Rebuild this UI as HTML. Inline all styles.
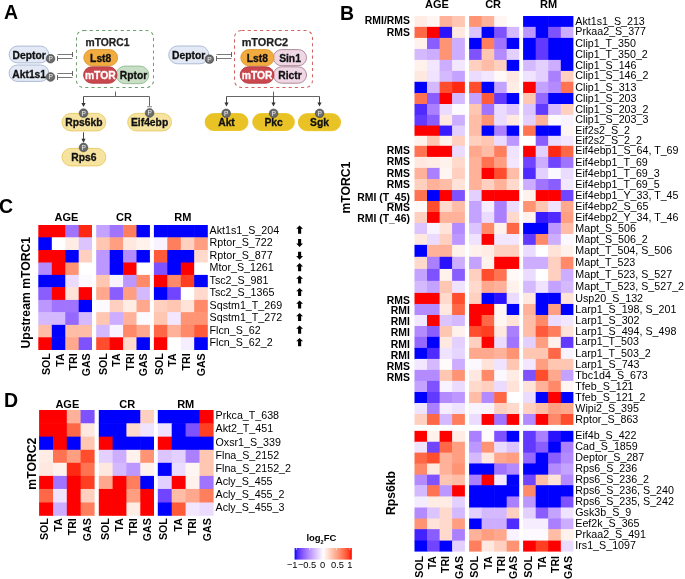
<!DOCTYPE html>
<html><head><meta charset="utf-8"><style>
html,body{margin:0;padding:0;background:#fff;}
body{width:685px;height:579px;overflow:hidden;}
svg{display:block;font-family:"Liberation Sans",sans-serif;will-change:transform;}
</style></head><body>
<svg width="685" height="579" viewBox="0 0 685 579">
<rect x="414.50" y="16.00" width="13.10" height="11.45" fill="#FFECE5"/>
<rect x="427.00" y="16.00" width="13.20" height="11.45" fill="#FFF5F2"/>
<rect x="439.60" y="16.00" width="13.10" height="11.45" fill="#FFB299"/>
<rect x="452.10" y="16.00" width="12.80" height="11.45" fill="#FFC6B2"/>
<rect x="469.10" y="16.00" width="13.10" height="11.45" fill="#FF9475"/>
<rect x="481.60" y="16.00" width="13.20" height="11.45" fill="#FFB299"/>
<rect x="494.20" y="16.00" width="13.10" height="11.45" fill="#FFF5F2"/>
<rect x="506.70" y="16.00" width="12.50" height="11.45" fill="#FFFFFF"/>
<rect x="523.10" y="16.00" width="13.20" height="11.45" fill="#0000FF"/>
<rect x="535.70" y="16.00" width="13.10" height="11.45" fill="#0000FF"/>
<rect x="548.20" y="16.00" width="13.20" height="11.45" fill="#0000FF"/>
<rect x="560.80" y="16.00" width="12.60" height="11.45" fill="#0000FF"/>
<rect x="414.50" y="26.85" width="13.10" height="11.65" fill="#FF6846"/>
<rect x="427.00" y="26.85" width="13.20" height="11.65" fill="#FF0000"/>
<rect x="439.60" y="26.85" width="13.10" height="11.65" fill="#2A12FF"/>
<rect x="452.10" y="26.85" width="12.80" height="11.65" fill="#FFE8E0"/>
<rect x="469.10" y="26.85" width="13.10" height="11.65" fill="#DCC4FF"/>
<rect x="481.60" y="26.85" width="13.20" height="11.65" fill="#0000FF"/>
<rect x="494.20" y="26.85" width="13.10" height="11.65" fill="#7E52FF"/>
<rect x="506.70" y="26.85" width="12.50" height="11.65" fill="#D4B9FF"/>
<rect x="523.10" y="26.85" width="13.20" height="11.65" fill="#BC97FF"/>
<rect x="535.70" y="26.85" width="13.10" height="11.65" fill="#0000FF"/>
<rect x="548.20" y="26.85" width="13.20" height="11.65" fill="#7E52FF"/>
<rect x="560.80" y="26.85" width="12.60" height="11.65" fill="#CCADFF"/>
<rect x="414.50" y="37.90" width="13.10" height="11.66" fill="#FFF2ED"/>
<rect x="427.00" y="37.90" width="13.20" height="11.66" fill="#8A5DFF"/>
<rect x="439.60" y="37.90" width="13.10" height="11.66" fill="#FF9475"/>
<rect x="452.10" y="37.90" width="12.80" height="11.66" fill="#CCADFF"/>
<rect x="469.10" y="37.90" width="13.10" height="11.66" fill="#0000FF"/>
<rect x="481.60" y="37.90" width="13.20" height="11.66" fill="#FF7E5E"/>
<rect x="494.20" y="37.90" width="13.10" height="11.66" fill="#A074FF"/>
<rect x="506.70" y="37.90" width="12.50" height="11.66" fill="#0000FF"/>
<rect x="523.10" y="37.90" width="13.20" height="11.66" fill="#0000FF"/>
<rect x="535.70" y="37.90" width="13.10" height="11.66" fill="#6239FF"/>
<rect x="548.20" y="37.90" width="13.20" height="11.66" fill="#0000FF"/>
<rect x="560.80" y="37.90" width="12.60" height="11.66" fill="#0000FF"/>
<rect x="414.50" y="48.96" width="13.10" height="11.54" fill="#D4B9FF"/>
<rect x="427.00" y="48.96" width="13.20" height="11.54" fill="#CCADFF"/>
<rect x="439.60" y="48.96" width="13.10" height="11.54" fill="#FF9475"/>
<rect x="452.10" y="48.96" width="12.80" height="11.54" fill="#CCADFF"/>
<rect x="469.10" y="48.96" width="13.10" height="11.54" fill="#7E52FF"/>
<rect x="481.60" y="48.96" width="13.20" height="11.54" fill="#FFC6B2"/>
<rect x="494.20" y="48.96" width="13.10" height="11.54" fill="#B38BFF"/>
<rect x="506.70" y="48.96" width="12.50" height="11.54" fill="#E3D0FF"/>
<rect x="523.10" y="48.96" width="13.20" height="11.54" fill="#0000FF"/>
<rect x="535.70" y="48.96" width="13.10" height="11.54" fill="#6239FF"/>
<rect x="548.20" y="48.96" width="13.20" height="11.54" fill="#0000FF"/>
<rect x="560.80" y="48.96" width="12.60" height="11.54" fill="#0000FF"/>
<rect x="414.50" y="59.90" width="13.10" height="11.60" fill="#FFF2ED"/>
<rect x="427.00" y="59.90" width="13.20" height="11.60" fill="#F2E7FF"/>
<rect x="439.60" y="59.90" width="13.10" height="11.60" fill="#CCADFF"/>
<rect x="452.10" y="59.90" width="12.80" height="11.60" fill="#F2E7FF"/>
<rect x="469.10" y="59.90" width="13.10" height="11.60" fill="#FFCFBF"/>
<rect x="481.60" y="59.90" width="13.20" height="11.60" fill="#FFBCA6"/>
<rect x="494.20" y="59.90" width="13.10" height="11.60" fill="#FFCFBF"/>
<rect x="506.70" y="59.90" width="12.50" height="11.60" fill="#0000FF"/>
<rect x="523.10" y="59.90" width="13.20" height="11.60" fill="#D4B9FF"/>
<rect x="535.70" y="59.90" width="13.10" height="11.60" fill="#E3D0FF"/>
<rect x="548.20" y="59.90" width="13.20" height="11.60" fill="#CCADFF"/>
<rect x="560.80" y="59.90" width="12.60" height="11.60" fill="#0000FF"/>
<rect x="414.50" y="70.90" width="13.10" height="11.50" fill="#FFE8E0"/>
<rect x="427.00" y="70.90" width="13.20" height="11.50" fill="#EFE3FF"/>
<rect x="439.60" y="70.90" width="13.10" height="11.50" fill="#D4B9FF"/>
<rect x="452.10" y="70.90" width="12.80" height="11.50" fill="#C4A2FF"/>
<rect x="469.10" y="70.90" width="13.10" height="11.50" fill="#EBDCFF"/>
<rect x="481.60" y="70.90" width="13.20" height="11.50" fill="#F2E7FF"/>
<rect x="494.20" y="70.90" width="13.10" height="11.50" fill="#FFF9F7"/>
<rect x="506.70" y="70.90" width="12.50" height="11.50" fill="#FFE8E0"/>
<rect x="523.10" y="70.90" width="13.20" height="11.50" fill="#EFE3FF"/>
<rect x="535.70" y="70.90" width="13.10" height="11.50" fill="#E3D0FF"/>
<rect x="548.20" y="70.90" width="13.20" height="11.50" fill="#AA80FF"/>
<rect x="560.80" y="70.90" width="12.60" height="11.50" fill="#FFCFBF"/>
<rect x="414.50" y="81.80" width="13.10" height="11.80" fill="#0000FF"/>
<rect x="427.00" y="81.80" width="13.20" height="11.80" fill="#D4B9FF"/>
<rect x="439.60" y="81.80" width="13.10" height="11.80" fill="#FF4D2E"/>
<rect x="452.10" y="81.80" width="12.80" height="11.80" fill="#FF2913"/>
<rect x="469.10" y="81.80" width="13.10" height="11.80" fill="#FF4D2E"/>
<rect x="481.60" y="81.80" width="13.20" height="11.80" fill="#0000FF"/>
<rect x="494.20" y="81.80" width="13.10" height="11.80" fill="#C4A2FF"/>
<rect x="506.70" y="81.80" width="12.50" height="11.80" fill="#FFECE5"/>
<rect x="523.10" y="81.80" width="13.20" height="11.80" fill="#FF0000"/>
<rect x="535.70" y="81.80" width="13.10" height="11.80" fill="#C4A2FF"/>
<rect x="548.20" y="81.80" width="13.20" height="11.80" fill="#B38BFF"/>
<rect x="560.80" y="81.80" width="12.60" height="11.80" fill="#FF7352"/>
<rect x="414.50" y="93.00" width="13.10" height="11.60" fill="#FF7352"/>
<rect x="427.00" y="93.00" width="13.20" height="11.60" fill="#8A5DFF"/>
<rect x="439.60" y="93.00" width="13.10" height="11.60" fill="#FF0000"/>
<rect x="452.10" y="93.00" width="12.80" height="11.60" fill="#D4B9FF"/>
<rect x="469.10" y="93.00" width="13.10" height="11.60" fill="#C4A2FF"/>
<rect x="481.60" y="93.00" width="13.20" height="11.60" fill="#FF5B3A"/>
<rect x="494.20" y="93.00" width="13.10" height="11.60" fill="#6239FF"/>
<rect x="506.70" y="93.00" width="12.50" height="11.60" fill="#0000FF"/>
<rect x="523.10" y="93.00" width="13.20" height="11.60" fill="#FFC6B2"/>
<rect x="535.70" y="93.00" width="13.10" height="11.60" fill="#9569FF"/>
<rect x="548.20" y="93.00" width="13.20" height="11.60" fill="#0000FF"/>
<rect x="560.80" y="93.00" width="12.60" height="11.60" fill="#0000FF"/>
<rect x="414.50" y="104.00" width="13.10" height="11.50" fill="#502BFF"/>
<rect x="427.00" y="104.00" width="13.20" height="11.50" fill="#AA80FF"/>
<rect x="439.60" y="104.00" width="13.10" height="11.50" fill="#EBDCFF"/>
<rect x="452.10" y="104.00" width="12.80" height="11.50" fill="#FCFAFF"/>
<rect x="469.10" y="104.00" width="13.10" height="11.50" fill="#FFC6B2"/>
<rect x="481.60" y="104.00" width="13.20" height="11.50" fill="#A074FF"/>
<rect x="494.20" y="104.00" width="13.10" height="11.50" fill="#EBDCFF"/>
<rect x="506.70" y="104.00" width="12.50" height="11.50" fill="#DCC4FF"/>
<rect x="523.10" y="104.00" width="13.20" height="11.50" fill="#DCC4FF"/>
<rect x="535.70" y="104.00" width="13.10" height="11.50" fill="#6239FF"/>
<rect x="548.20" y="104.00" width="13.20" height="11.50" fill="#D4B9FF"/>
<rect x="560.80" y="104.00" width="12.60" height="11.50" fill="#FFCFBF"/>
<rect x="414.50" y="114.90" width="13.10" height="11.25" fill="#6239FF"/>
<rect x="427.00" y="114.90" width="13.20" height="11.25" fill="#8A5DFF"/>
<rect x="439.60" y="114.90" width="13.10" height="11.25" fill="#FFE8E0"/>
<rect x="452.10" y="114.90" width="12.80" height="11.25" fill="#CCADFF"/>
<rect x="469.10" y="114.90" width="13.10" height="11.25" fill="#FFBCA6"/>
<rect x="481.60" y="114.90" width="13.20" height="11.25" fill="#FF9475"/>
<rect x="494.20" y="114.90" width="13.10" height="11.25" fill="#EBDCFF"/>
<rect x="506.70" y="114.90" width="12.50" height="11.25" fill="#FFE8E0"/>
<rect x="523.10" y="114.90" width="13.20" height="11.25" fill="#E3D0FF"/>
<rect x="535.70" y="114.90" width="13.10" height="11.25" fill="#FFB299"/>
<rect x="548.20" y="114.90" width="13.20" height="11.25" fill="#FCFAFF"/>
<rect x="560.80" y="114.90" width="12.60" height="11.25" fill="#F8F3FF"/>
<rect x="414.50" y="125.55" width="13.10" height="10.85" fill="#FF0000"/>
<rect x="427.00" y="125.55" width="13.20" height="10.85" fill="#FF0000"/>
<rect x="439.60" y="125.55" width="13.10" height="10.85" fill="#381BFF"/>
<rect x="452.10" y="125.55" width="12.80" height="10.85" fill="#E3D0FF"/>
<rect x="469.10" y="125.55" width="13.10" height="10.85" fill="#FFBCA6"/>
<rect x="481.60" y="125.55" width="13.20" height="10.85" fill="#0000FF"/>
<rect x="494.20" y="125.55" width="13.10" height="10.85" fill="#AA80FF"/>
<rect x="506.70" y="125.55" width="12.50" height="10.85" fill="#0000FF"/>
<rect x="523.10" y="125.55" width="13.20" height="10.85" fill="#FF7352"/>
<rect x="535.70" y="125.55" width="13.10" height="10.85" fill="#0000FF"/>
<rect x="548.20" y="125.55" width="13.20" height="10.85" fill="#0000FF"/>
<rect x="560.80" y="125.55" width="12.60" height="10.85" fill="#FFF5F2"/>
<rect x="414.50" y="135.80" width="13.10" height="10.60" fill="#FFF2ED"/>
<rect x="427.00" y="135.80" width="13.20" height="10.60" fill="#FFC6B2"/>
<rect x="439.60" y="135.80" width="13.10" height="10.60" fill="#FFF2ED"/>
<rect x="452.10" y="135.80" width="12.80" height="10.60" fill="#FFCFBF"/>
<rect x="469.10" y="135.80" width="13.10" height="10.60" fill="#FFCFBF"/>
<rect x="481.60" y="135.80" width="13.20" height="10.60" fill="#FFC6B2"/>
<rect x="494.20" y="135.80" width="13.10" height="10.60" fill="#EBDCFF"/>
<rect x="506.70" y="135.80" width="12.50" height="10.60" fill="#BC97FF"/>
<rect x="523.10" y="135.80" width="13.20" height="10.60" fill="#FFFFFF"/>
<rect x="535.70" y="135.80" width="13.10" height="10.60" fill="#8A5DFF"/>
<rect x="548.20" y="135.80" width="13.20" height="10.60" fill="#EBDCFF"/>
<rect x="560.80" y="135.80" width="12.60" height="10.60" fill="#F2E7FF"/>
<rect x="414.50" y="145.80" width="13.10" height="11.70" fill="#FF7352"/>
<rect x="427.00" y="145.80" width="13.20" height="11.70" fill="#FF0000"/>
<rect x="439.60" y="145.80" width="13.10" height="11.70" fill="#FF0000"/>
<rect x="452.10" y="145.80" width="12.80" height="11.70" fill="#EBDCFF"/>
<rect x="469.10" y="145.80" width="13.10" height="11.70" fill="#FFA88D"/>
<rect x="481.60" y="145.80" width="13.20" height="11.70" fill="#FFBCA6"/>
<rect x="494.20" y="145.80" width="13.10" height="11.70" fill="#FF7E5E"/>
<rect x="506.70" y="145.80" width="12.50" height="11.70" fill="#EFE3FF"/>
<rect x="523.10" y="145.80" width="13.20" height="11.70" fill="#FF0000"/>
<rect x="535.70" y="145.80" width="13.10" height="11.70" fill="#E3D0FF"/>
<rect x="548.20" y="145.80" width="13.20" height="11.70" fill="#FF2913"/>
<rect x="560.80" y="145.80" width="12.60" height="11.70" fill="#FF6846"/>
<rect x="414.50" y="156.90" width="13.10" height="11.60" fill="#FFE8E0"/>
<rect x="427.00" y="156.90" width="13.20" height="11.60" fill="#FFECE5"/>
<rect x="439.60" y="156.90" width="13.10" height="11.60" fill="#FFF2ED"/>
<rect x="452.10" y="156.90" width="12.80" height="11.60" fill="#FFD9CB"/>
<rect x="469.10" y="156.90" width="13.10" height="11.60" fill="#FFB299"/>
<rect x="481.60" y="156.90" width="13.20" height="11.60" fill="#FF7352"/>
<rect x="494.20" y="156.90" width="13.10" height="11.60" fill="#FF9E81"/>
<rect x="506.70" y="156.90" width="12.50" height="11.60" fill="#F2E7FF"/>
<rect x="523.10" y="156.90" width="13.20" height="11.60" fill="#7145FF"/>
<rect x="535.70" y="156.90" width="13.10" height="11.60" fill="#CCADFF"/>
<rect x="548.20" y="156.90" width="13.20" height="11.60" fill="#7145FF"/>
<rect x="560.80" y="156.90" width="12.60" height="11.60" fill="#A074FF"/>
<rect x="414.50" y="167.90" width="13.10" height="11.70" fill="#FFB299"/>
<rect x="427.00" y="167.90" width="13.20" height="11.70" fill="#AA80FF"/>
<rect x="439.60" y="167.90" width="13.10" height="11.70" fill="#FFF5F2"/>
<rect x="452.10" y="167.90" width="12.80" height="11.70" fill="#FFCFBF"/>
<rect x="469.10" y="167.90" width="13.10" height="11.70" fill="#FFB299"/>
<rect x="481.60" y="167.90" width="13.20" height="11.70" fill="#FF0000"/>
<rect x="494.20" y="167.90" width="13.10" height="11.70" fill="#FF4D2E"/>
<rect x="506.70" y="167.90" width="12.50" height="11.70" fill="#FFBCA6"/>
<rect x="523.10" y="167.90" width="13.20" height="11.70" fill="#502BFF"/>
<rect x="535.70" y="167.90" width="13.10" height="11.70" fill="#E3D0FF"/>
<rect x="548.20" y="167.90" width="13.20" height="11.70" fill="#FBF8FF"/>
<rect x="560.80" y="167.90" width="12.60" height="11.70" fill="#EBDCFF"/>
<rect x="414.50" y="179.00" width="13.10" height="11.65" fill="#FFCFBF"/>
<rect x="427.00" y="179.00" width="13.20" height="11.65" fill="#FFB299"/>
<rect x="439.60" y="179.00" width="13.10" height="11.65" fill="#FFBCA6"/>
<rect x="452.10" y="179.00" width="12.80" height="11.65" fill="#FFE2D8"/>
<rect x="469.10" y="179.00" width="13.10" height="11.65" fill="#FFB299"/>
<rect x="481.60" y="179.00" width="13.20" height="11.65" fill="#FFCFBF"/>
<rect x="494.20" y="179.00" width="13.10" height="11.65" fill="#FFB299"/>
<rect x="506.70" y="179.00" width="12.50" height="11.65" fill="#FFD9CB"/>
<rect x="523.10" y="179.00" width="13.20" height="11.65" fill="#CCADFF"/>
<rect x="535.70" y="179.00" width="13.10" height="11.65" fill="#A074FF"/>
<rect x="548.20" y="179.00" width="13.20" height="11.65" fill="#8A5DFF"/>
<rect x="560.80" y="179.00" width="12.60" height="11.65" fill="#F2E7FF"/>
<rect x="414.50" y="190.05" width="13.10" height="11.55" fill="#FF7352"/>
<rect x="427.00" y="190.05" width="13.20" height="11.55" fill="#0000FF"/>
<rect x="439.60" y="190.05" width="13.10" height="11.55" fill="#FF0000"/>
<rect x="452.10" y="190.05" width="12.80" height="11.55" fill="#7E52FF"/>
<rect x="469.10" y="190.05" width="13.10" height="11.55" fill="#E3D0FF"/>
<rect x="481.60" y="190.05" width="13.20" height="11.55" fill="#FF0000"/>
<rect x="494.20" y="190.05" width="13.10" height="11.55" fill="#FF0000"/>
<rect x="506.70" y="190.05" width="12.50" height="11.55" fill="#FF0000"/>
<rect x="523.10" y="190.05" width="13.20" height="11.55" fill="#FFF2ED"/>
<rect x="535.70" y="190.05" width="13.10" height="11.55" fill="#FF0000"/>
<rect x="548.20" y="190.05" width="13.20" height="11.55" fill="#FF0000"/>
<rect x="560.80" y="190.05" width="12.60" height="11.55" fill="#7145FF"/>
<rect x="414.50" y="201.00" width="13.10" height="11.60" fill="#FFF9F7"/>
<rect x="427.00" y="201.00" width="13.20" height="11.60" fill="#FF4D2E"/>
<rect x="439.60" y="201.00" width="13.10" height="11.60" fill="#FFD9CB"/>
<rect x="452.10" y="201.00" width="12.80" height="11.60" fill="#FFBCA6"/>
<rect x="469.10" y="201.00" width="13.10" height="11.60" fill="#C4A2FF"/>
<rect x="481.60" y="201.00" width="13.20" height="11.60" fill="#F6EEFF"/>
<rect x="494.20" y="201.00" width="13.10" height="11.60" fill="#AA80FF"/>
<rect x="506.70" y="201.00" width="12.50" height="11.60" fill="#EBDCFF"/>
<rect x="523.10" y="201.00" width="13.20" height="11.60" fill="#FF9475"/>
<rect x="535.70" y="201.00" width="13.10" height="11.60" fill="#FFC6B2"/>
<rect x="548.20" y="201.00" width="13.20" height="11.60" fill="#EFE3FF"/>
<rect x="560.80" y="201.00" width="12.60" height="11.60" fill="#FFA88D"/>
<rect x="414.50" y="212.00" width="13.10" height="11.50" fill="#FFCFBF"/>
<rect x="427.00" y="212.00" width="13.20" height="11.50" fill="#FF0000"/>
<rect x="439.60" y="212.00" width="13.10" height="11.50" fill="#FFB299"/>
<rect x="452.10" y="212.00" width="12.80" height="11.50" fill="#FFB299"/>
<rect x="469.10" y="212.00" width="13.10" height="11.50" fill="#C4A2FF"/>
<rect x="481.60" y="212.00" width="13.20" height="11.50" fill="#EBDCFF"/>
<rect x="494.20" y="212.00" width="13.10" height="11.50" fill="#AA80FF"/>
<rect x="506.70" y="212.00" width="12.50" height="11.50" fill="#FFD9CB"/>
<rect x="523.10" y="212.00" width="13.20" height="11.50" fill="#FFF2ED"/>
<rect x="535.70" y="212.00" width="13.10" height="11.50" fill="#381BFF"/>
<rect x="548.20" y="212.00" width="13.20" height="11.50" fill="#502BFF"/>
<rect x="560.80" y="212.00" width="12.60" height="11.50" fill="#FF9E81"/>
<rect x="414.50" y="222.90" width="13.10" height="11.70" fill="#DCC4FF"/>
<rect x="427.00" y="222.90" width="13.20" height="11.70" fill="#F8F3FF"/>
<rect x="439.60" y="222.90" width="13.10" height="11.70" fill="#FFE2D8"/>
<rect x="452.10" y="222.90" width="12.80" height="11.70" fill="#B38BFF"/>
<rect x="469.10" y="222.90" width="13.10" height="11.70" fill="#DCC4FF"/>
<rect x="481.60" y="222.90" width="13.20" height="11.70" fill="#FF8969"/>
<rect x="494.20" y="222.90" width="13.10" height="11.70" fill="#FFF2ED"/>
<rect x="506.70" y="222.90" width="12.50" height="11.70" fill="#FF6846"/>
<rect x="523.10" y="222.90" width="13.20" height="11.70" fill="#0000FF"/>
<rect x="535.70" y="222.90" width="13.10" height="11.70" fill="#0000FF"/>
<rect x="548.20" y="222.90" width="13.20" height="11.70" fill="#BC97FF"/>
<rect x="560.80" y="222.90" width="12.60" height="11.70" fill="#FFBCA6"/>
<rect x="414.50" y="234.00" width="13.10" height="11.45" fill="#FFE8E0"/>
<rect x="427.00" y="234.00" width="13.20" height="11.45" fill="#EBDCFF"/>
<rect x="439.60" y="234.00" width="13.10" height="11.45" fill="#FFCFBF"/>
<rect x="452.10" y="234.00" width="12.80" height="11.45" fill="#BC97FF"/>
<rect x="469.10" y="234.00" width="13.10" height="11.45" fill="#EFE3FF"/>
<rect x="481.60" y="234.00" width="13.20" height="11.45" fill="#FF0000"/>
<rect x="494.20" y="234.00" width="13.10" height="11.45" fill="#F2E7FF"/>
<rect x="506.70" y="234.00" width="12.50" height="11.45" fill="#F2E7FF"/>
<rect x="523.10" y="234.00" width="13.20" height="11.45" fill="#6239FF"/>
<rect x="535.70" y="234.00" width="13.10" height="11.45" fill="#FF8969"/>
<rect x="548.20" y="234.00" width="13.20" height="11.45" fill="#CCADFF"/>
<rect x="560.80" y="234.00" width="12.60" height="11.45" fill="#FBF8FF"/>
<rect x="414.50" y="244.85" width="13.10" height="12.55" fill="#0000FF"/>
<rect x="427.00" y="244.85" width="13.20" height="12.55" fill="#FFB299"/>
<rect x="439.60" y="244.85" width="13.10" height="12.55" fill="#FFB299"/>
<rect x="452.10" y="244.85" width="12.80" height="12.55" fill="#FFF2ED"/>
<rect x="469.10" y="244.85" width="13.10" height="12.55" fill="#FFF2ED"/>
<rect x="481.60" y="244.85" width="13.20" height="12.55" fill="#FFECE5"/>
<rect x="494.20" y="244.85" width="13.10" height="12.55" fill="#FFCFBF"/>
<rect x="506.70" y="244.85" width="12.50" height="12.55" fill="#FFCFBF"/>
<rect x="523.10" y="244.85" width="13.20" height="12.55" fill="#EBDCFF"/>
<rect x="535.70" y="244.85" width="13.10" height="12.55" fill="#FFFFFF"/>
<rect x="548.20" y="244.85" width="13.20" height="12.55" fill="#FFE2D8"/>
<rect x="560.80" y="244.85" width="12.60" height="12.55" fill="#FFF2ED"/>
<rect x="414.50" y="256.80" width="13.10" height="12.75" fill="#FFD9CB"/>
<rect x="427.00" y="256.80" width="13.20" height="12.75" fill="#AA80FF"/>
<rect x="439.60" y="256.80" width="13.10" height="12.75" fill="#2A12FF"/>
<rect x="452.10" y="256.80" width="12.80" height="12.75" fill="#CCADFF"/>
<rect x="469.10" y="256.80" width="13.10" height="12.75" fill="#C4A2FF"/>
<rect x="481.60" y="256.80" width="13.20" height="12.75" fill="#FFF2ED"/>
<rect x="494.20" y="256.80" width="13.10" height="12.75" fill="#FF0000"/>
<rect x="506.70" y="256.80" width="12.50" height="12.75" fill="#FF0000"/>
<rect x="523.10" y="256.80" width="13.20" height="12.75" fill="#CCADFF"/>
<rect x="535.70" y="256.80" width="13.10" height="12.75" fill="#CCADFF"/>
<rect x="548.20" y="256.80" width="13.20" height="12.75" fill="#FFCFBF"/>
<rect x="560.80" y="256.80" width="12.60" height="12.75" fill="#FF8969"/>
<rect x="414.50" y="268.95" width="13.10" height="12.50" fill="#C4A2FF"/>
<rect x="427.00" y="268.95" width="13.20" height="12.50" fill="#7E52FF"/>
<rect x="439.60" y="268.95" width="13.10" height="12.50" fill="#FFF2ED"/>
<rect x="452.10" y="268.95" width="12.80" height="12.50" fill="#8A5DFF"/>
<rect x="469.10" y="268.95" width="13.10" height="12.50" fill="#FFCFBF"/>
<rect x="481.60" y="268.95" width="13.20" height="12.50" fill="#FF4D2E"/>
<rect x="494.20" y="268.95" width="13.10" height="12.50" fill="#FF7352"/>
<rect x="506.70" y="268.95" width="12.50" height="12.50" fill="#FFF9F7"/>
<rect x="523.10" y="268.95" width="13.20" height="12.50" fill="#EBDCFF"/>
<rect x="535.70" y="268.95" width="13.10" height="12.50" fill="#FFFFFF"/>
<rect x="548.20" y="268.95" width="13.20" height="12.50" fill="#FFCFBF"/>
<rect x="560.80" y="268.95" width="12.60" height="12.50" fill="#CCADFF"/>
<rect x="414.50" y="280.85" width="13.10" height="12.65" fill="#D4B9FF"/>
<rect x="427.00" y="280.85" width="13.20" height="12.65" fill="#C4A2FF"/>
<rect x="439.60" y="280.85" width="13.10" height="12.65" fill="#FFC6B2"/>
<rect x="452.10" y="280.85" width="12.80" height="12.65" fill="#EFE3FF"/>
<rect x="469.10" y="280.85" width="13.10" height="12.65" fill="#FFD9CB"/>
<rect x="481.60" y="280.85" width="13.20" height="12.65" fill="#FFA88D"/>
<rect x="494.20" y="280.85" width="13.10" height="12.65" fill="#FFB299"/>
<rect x="506.70" y="280.85" width="12.50" height="12.65" fill="#FFF2ED"/>
<rect x="523.10" y="280.85" width="13.20" height="12.65" fill="#D4B9FF"/>
<rect x="535.70" y="280.85" width="13.10" height="12.65" fill="#EFE3FF"/>
<rect x="548.20" y="280.85" width="13.20" height="12.65" fill="#C4A2FF"/>
<rect x="560.80" y="280.85" width="12.60" height="12.65" fill="#D4B9FF"/>
<rect x="414.50" y="292.90" width="13.10" height="11.65" fill="#FF0000"/>
<rect x="427.00" y="292.90" width="13.20" height="11.65" fill="#FF0000"/>
<rect x="439.60" y="292.90" width="13.10" height="11.65" fill="#FFD9CB"/>
<rect x="452.10" y="292.90" width="12.80" height="11.65" fill="#FF4D2E"/>
<rect x="469.10" y="292.90" width="13.10" height="11.65" fill="#FFCFBF"/>
<rect x="481.60" y="292.90" width="13.20" height="11.65" fill="#0000FF"/>
<rect x="494.20" y="292.90" width="13.10" height="11.65" fill="#2A12FF"/>
<rect x="506.70" y="292.90" width="12.50" height="11.65" fill="#EBDCFF"/>
<rect x="523.10" y="292.90" width="13.20" height="11.65" fill="#FFE8E0"/>
<rect x="535.70" y="292.90" width="13.10" height="11.65" fill="#0000FF"/>
<rect x="548.20" y="292.90" width="13.20" height="11.65" fill="#0000FF"/>
<rect x="560.80" y="292.90" width="12.60" height="11.65" fill="#FFE2D8"/>
<rect x="414.50" y="303.95" width="13.10" height="11.65" fill="#B38BFF"/>
<rect x="427.00" y="303.95" width="13.20" height="11.65" fill="#B38BFF"/>
<rect x="439.60" y="303.95" width="13.10" height="11.65" fill="#FFE8E0"/>
<rect x="452.10" y="303.95" width="12.80" height="11.65" fill="#FF6846"/>
<rect x="469.10" y="303.95" width="13.10" height="11.65" fill="#FF0000"/>
<rect x="481.60" y="303.95" width="13.20" height="11.65" fill="#FF0000"/>
<rect x="494.20" y="303.95" width="13.10" height="11.65" fill="#FFF5F2"/>
<rect x="506.70" y="303.95" width="12.50" height="11.65" fill="#0000FF"/>
<rect x="523.10" y="303.95" width="13.20" height="11.65" fill="#FFB299"/>
<rect x="535.70" y="303.95" width="13.10" height="11.65" fill="#0000FF"/>
<rect x="548.20" y="303.95" width="13.20" height="11.65" fill="#FF9E81"/>
<rect x="560.80" y="303.95" width="12.60" height="11.65" fill="#0000FF"/>
<rect x="414.50" y="315.00" width="13.10" height="11.60" fill="#F2E7FF"/>
<rect x="427.00" y="315.00" width="13.20" height="11.60" fill="#FF0000"/>
<rect x="439.60" y="315.00" width="13.10" height="11.60" fill="#DCC4FF"/>
<rect x="452.10" y="315.00" width="12.80" height="11.60" fill="#D4B9FF"/>
<rect x="469.10" y="315.00" width="13.10" height="11.60" fill="#FF0000"/>
<rect x="481.60" y="315.00" width="13.20" height="11.60" fill="#FF6846"/>
<rect x="494.20" y="315.00" width="13.10" height="11.60" fill="#FFF5F2"/>
<rect x="506.70" y="315.00" width="12.50" height="11.60" fill="#FFE2D8"/>
<rect x="523.10" y="315.00" width="13.20" height="11.60" fill="#FFBCA6"/>
<rect x="535.70" y="315.00" width="13.10" height="11.60" fill="#FF8969"/>
<rect x="548.20" y="315.00" width="13.20" height="11.60" fill="#EBDCFF"/>
<rect x="560.80" y="315.00" width="12.60" height="11.60" fill="#F2E7FF"/>
<rect x="414.50" y="326.00" width="13.10" height="11.45" fill="#B38BFF"/>
<rect x="427.00" y="326.00" width="13.20" height="11.45" fill="#8A5DFF"/>
<rect x="439.60" y="326.00" width="13.10" height="11.45" fill="#FFC6B2"/>
<rect x="452.10" y="326.00" width="12.80" height="11.45" fill="#FFF2ED"/>
<rect x="469.10" y="326.00" width="13.10" height="11.45" fill="#FF4D2E"/>
<rect x="481.60" y="326.00" width="13.20" height="11.45" fill="#FF3E22"/>
<rect x="494.20" y="326.00" width="13.10" height="11.45" fill="#FFE8E0"/>
<rect x="506.70" y="326.00" width="12.50" height="11.45" fill="#AA80FF"/>
<rect x="523.10" y="326.00" width="13.20" height="11.45" fill="#FFBCA6"/>
<rect x="535.70" y="326.00" width="13.10" height="11.45" fill="#FF5B3A"/>
<rect x="548.20" y="326.00" width="13.20" height="11.45" fill="#FF7E5E"/>
<rect x="560.80" y="326.00" width="12.60" height="11.45" fill="#FFE2D8"/>
<rect x="414.50" y="336.85" width="13.10" height="11.65" fill="#9569FF"/>
<rect x="427.00" y="336.85" width="13.20" height="11.65" fill="#0000FF"/>
<rect x="439.60" y="336.85" width="13.10" height="11.65" fill="#FFE8E0"/>
<rect x="452.10" y="336.85" width="12.80" height="11.65" fill="#E3D0FF"/>
<rect x="469.10" y="336.85" width="13.10" height="11.65" fill="#FFCFBF"/>
<rect x="481.60" y="336.85" width="13.20" height="11.65" fill="#FF0000"/>
<rect x="494.20" y="336.85" width="13.10" height="11.65" fill="#EBDCFF"/>
<rect x="506.70" y="336.85" width="12.50" height="11.65" fill="#A074FF"/>
<rect x="523.10" y="336.85" width="13.20" height="11.65" fill="#E3D0FF"/>
<rect x="535.70" y="336.85" width="13.10" height="11.65" fill="#FF9E81"/>
<rect x="548.20" y="336.85" width="13.20" height="11.65" fill="#FFF2ED"/>
<rect x="560.80" y="336.85" width="12.60" height="11.65" fill="#6239FF"/>
<rect x="414.50" y="347.90" width="13.10" height="11.60" fill="#0000FF"/>
<rect x="427.00" y="347.90" width="13.20" height="11.60" fill="#502BFF"/>
<rect x="439.60" y="347.90" width="13.10" height="11.60" fill="#EFE3FF"/>
<rect x="452.10" y="347.90" width="12.80" height="11.60" fill="#E6D5FF"/>
<rect x="469.10" y="347.90" width="13.10" height="11.60" fill="#FFA88D"/>
<rect x="481.60" y="347.90" width="13.20" height="11.60" fill="#FFA88D"/>
<rect x="494.20" y="347.90" width="13.10" height="11.60" fill="#FFB299"/>
<rect x="506.70" y="347.90" width="12.50" height="11.60" fill="#FF9475"/>
<rect x="523.10" y="347.90" width="13.20" height="11.60" fill="#FFC6B2"/>
<rect x="535.70" y="347.90" width="13.10" height="11.60" fill="#FFC6B2"/>
<rect x="548.20" y="347.90" width="13.20" height="11.60" fill="#FF6846"/>
<rect x="560.80" y="347.90" width="12.60" height="11.60" fill="#F8F3FF"/>
<rect x="414.50" y="358.90" width="13.10" height="11.60" fill="#F2E7FF"/>
<rect x="427.00" y="358.90" width="13.20" height="11.60" fill="#D4B9FF"/>
<rect x="439.60" y="358.90" width="13.10" height="11.60" fill="#FFFBFA"/>
<rect x="452.10" y="358.90" width="12.80" height="11.60" fill="#CCADFF"/>
<rect x="469.10" y="358.90" width="13.10" height="11.60" fill="#FBF8FF"/>
<rect x="481.60" y="358.90" width="13.20" height="11.60" fill="#FFE2D8"/>
<rect x="494.20" y="358.90" width="13.10" height="11.60" fill="#EFE3FF"/>
<rect x="506.70" y="358.90" width="12.50" height="11.60" fill="#FFC6B2"/>
<rect x="523.10" y="358.90" width="13.20" height="11.60" fill="#F2E7FF"/>
<rect x="535.70" y="358.90" width="13.10" height="11.60" fill="#FF9E81"/>
<rect x="548.20" y="358.90" width="13.20" height="11.60" fill="#FFC6B2"/>
<rect x="560.80" y="358.90" width="12.60" height="11.60" fill="#FFC6B2"/>
<rect x="414.50" y="369.90" width="13.10" height="11.60" fill="#B38BFF"/>
<rect x="427.00" y="369.90" width="13.20" height="11.60" fill="#B38BFF"/>
<rect x="439.60" y="369.90" width="13.10" height="11.60" fill="#FFC6B2"/>
<rect x="452.10" y="369.90" width="12.80" height="11.60" fill="#FF9475"/>
<rect x="469.10" y="369.90" width="13.10" height="11.60" fill="#FFE8E0"/>
<rect x="481.60" y="369.90" width="13.20" height="11.60" fill="#FF8969"/>
<rect x="494.20" y="369.90" width="13.10" height="11.60" fill="#FBF8FF"/>
<rect x="506.70" y="369.90" width="12.50" height="11.60" fill="#FFECE5"/>
<rect x="523.10" y="369.90" width="13.20" height="11.60" fill="#7E52FF"/>
<rect x="535.70" y="369.90" width="13.10" height="11.60" fill="#FF4D2E"/>
<rect x="548.20" y="369.90" width="13.20" height="11.60" fill="#FFA88D"/>
<rect x="560.80" y="369.90" width="12.60" height="11.60" fill="#C4A2FF"/>
<rect x="414.50" y="380.90" width="13.10" height="11.70" fill="#C4A2FF"/>
<rect x="427.00" y="380.90" width="13.20" height="11.70" fill="#7E52FF"/>
<rect x="439.60" y="380.90" width="13.10" height="11.70" fill="#F8F3FF"/>
<rect x="452.10" y="380.90" width="12.80" height="11.70" fill="#EBDCFF"/>
<rect x="469.10" y="380.90" width="13.10" height="11.70" fill="#FFD9CB"/>
<rect x="481.60" y="380.90" width="13.20" height="11.70" fill="#FFCFBF"/>
<rect x="494.20" y="380.90" width="13.10" height="11.70" fill="#EBDCFF"/>
<rect x="506.70" y="380.90" width="12.50" height="11.70" fill="#FFE2D8"/>
<rect x="523.10" y="380.90" width="13.20" height="11.70" fill="#FFE2D8"/>
<rect x="535.70" y="380.90" width="13.10" height="11.70" fill="#FFB299"/>
<rect x="548.20" y="380.90" width="13.20" height="11.70" fill="#FF8969"/>
<rect x="560.80" y="380.90" width="12.60" height="11.70" fill="#FFF5F2"/>
<rect x="414.50" y="392.00" width="13.10" height="11.60" fill="#0000FF"/>
<rect x="427.00" y="392.00" width="13.20" height="11.60" fill="#6239FF"/>
<rect x="439.60" y="392.00" width="13.10" height="11.60" fill="#B38BFF"/>
<rect x="452.10" y="392.00" width="12.80" height="11.60" fill="#BC97FF"/>
<rect x="469.10" y="392.00" width="13.10" height="11.60" fill="#FFBCA6"/>
<rect x="481.60" y="392.00" width="13.20" height="11.60" fill="#B38BFF"/>
<rect x="494.20" y="392.00" width="13.10" height="11.60" fill="#FF6846"/>
<rect x="506.70" y="392.00" width="12.50" height="11.60" fill="#FFFFFF"/>
<rect x="523.10" y="392.00" width="13.20" height="11.60" fill="#EBDCFF"/>
<rect x="535.70" y="392.00" width="13.10" height="11.60" fill="#0000FF"/>
<rect x="548.20" y="392.00" width="13.20" height="11.60" fill="#FF0000"/>
<rect x="560.80" y="392.00" width="12.60" height="11.60" fill="#0000FF"/>
<rect x="414.50" y="403.00" width="13.10" height="11.60" fill="#EFE3FF"/>
<rect x="427.00" y="403.00" width="13.20" height="11.60" fill="#AA80FF"/>
<rect x="439.60" y="403.00" width="13.10" height="11.60" fill="#F6EEFF"/>
<rect x="452.10" y="403.00" width="12.80" height="11.60" fill="#EFE3FF"/>
<rect x="469.10" y="403.00" width="13.10" height="11.60" fill="#F8F3FF"/>
<rect x="481.60" y="403.00" width="13.20" height="11.60" fill="#F8F3FF"/>
<rect x="494.20" y="403.00" width="13.10" height="11.60" fill="#FFCFBF"/>
<rect x="506.70" y="403.00" width="12.50" height="11.60" fill="#FFD9CB"/>
<rect x="523.10" y="403.00" width="13.20" height="11.60" fill="#FFCFBF"/>
<rect x="535.70" y="403.00" width="13.10" height="11.60" fill="#FFBCA6"/>
<rect x="548.20" y="403.00" width="13.20" height="11.60" fill="#FF9E81"/>
<rect x="560.80" y="403.00" width="12.60" height="11.60" fill="#FFA88D"/>
<rect x="414.50" y="414.00" width="13.10" height="10.90" fill="#FFCFBF"/>
<rect x="427.00" y="414.00" width="13.20" height="10.90" fill="#FF6846"/>
<rect x="439.60" y="414.00" width="13.10" height="10.90" fill="#D4B9FF"/>
<rect x="452.10" y="414.00" width="12.80" height="10.90" fill="#FF7E5E"/>
<rect x="469.10" y="414.00" width="13.10" height="10.90" fill="#EBDCFF"/>
<rect x="481.60" y="414.00" width="13.20" height="10.90" fill="#FF0000"/>
<rect x="494.20" y="414.00" width="13.10" height="10.90" fill="#A074FF"/>
<rect x="506.70" y="414.00" width="12.50" height="10.90" fill="#FF0000"/>
<rect x="523.10" y="414.00" width="13.20" height="10.90" fill="#B38BFF"/>
<rect x="535.70" y="414.00" width="13.10" height="10.90" fill="#FF0000"/>
<rect x="548.20" y="414.00" width="13.20" height="10.90" fill="#FF8969"/>
<rect x="560.80" y="414.00" width="12.60" height="10.90" fill="#FF4D2E"/>
<rect x="414.50" y="430.84" width="13.10" height="11.51" fill="#FF0000"/>
<rect x="427.00" y="430.84" width="13.20" height="11.51" fill="#FFF2ED"/>
<rect x="439.60" y="430.84" width="13.10" height="11.51" fill="#FF0000"/>
<rect x="452.10" y="430.84" width="12.80" height="11.51" fill="#FFECE5"/>
<rect x="469.10" y="430.84" width="13.10" height="11.51" fill="#AA80FF"/>
<rect x="481.60" y="430.84" width="13.20" height="11.51" fill="#FFFBFA"/>
<rect x="494.20" y="430.84" width="13.10" height="11.51" fill="#7E52FF"/>
<rect x="506.70" y="430.84" width="12.50" height="11.51" fill="#0000FF"/>
<rect x="523.10" y="430.84" width="13.20" height="11.51" fill="#6239FF"/>
<rect x="535.70" y="430.84" width="13.10" height="11.51" fill="#AA80FF"/>
<rect x="548.20" y="430.84" width="13.20" height="11.51" fill="#2A12FF"/>
<rect x="560.80" y="430.84" width="12.60" height="11.51" fill="#0000FF"/>
<rect x="414.50" y="441.75" width="13.10" height="11.45" fill="#EFE3FF"/>
<rect x="427.00" y="441.75" width="13.20" height="11.45" fill="#7145FF"/>
<rect x="439.60" y="441.75" width="13.10" height="11.45" fill="#FF6846"/>
<rect x="452.10" y="441.75" width="12.80" height="11.45" fill="#FF9E81"/>
<rect x="469.10" y="441.75" width="13.10" height="11.45" fill="#BC97FF"/>
<rect x="481.60" y="441.75" width="13.20" height="11.45" fill="#FF9475"/>
<rect x="494.20" y="441.75" width="13.10" height="11.45" fill="#EBDCFF"/>
<rect x="506.70" y="441.75" width="12.50" height="11.45" fill="#DCC4FF"/>
<rect x="523.10" y="441.75" width="13.20" height="11.45" fill="#6239FF"/>
<rect x="535.70" y="441.75" width="13.10" height="11.45" fill="#8A5DFF"/>
<rect x="548.20" y="441.75" width="13.20" height="11.45" fill="#0000FF"/>
<rect x="560.80" y="441.75" width="12.60" height="11.45" fill="#AA80FF"/>
<rect x="414.50" y="452.60" width="13.10" height="11.45" fill="#FF6846"/>
<rect x="427.00" y="452.60" width="13.20" height="11.45" fill="#FF4D2E"/>
<rect x="439.60" y="452.60" width="13.10" height="11.45" fill="#FFB299"/>
<rect x="452.10" y="452.60" width="12.80" height="11.45" fill="#FF9E81"/>
<rect x="469.10" y="452.60" width="13.10" height="11.45" fill="#D4B9FF"/>
<rect x="481.60" y="452.60" width="13.20" height="11.45" fill="#FFE8E0"/>
<rect x="494.20" y="452.60" width="13.10" height="11.45" fill="#FFA88D"/>
<rect x="506.70" y="452.60" width="12.50" height="11.45" fill="#FF9E81"/>
<rect x="523.10" y="452.60" width="13.20" height="11.45" fill="#9569FF"/>
<rect x="535.70" y="452.60" width="13.10" height="11.45" fill="#0000FF"/>
<rect x="548.20" y="452.60" width="13.20" height="11.45" fill="#8A5DFF"/>
<rect x="560.80" y="452.60" width="12.60" height="11.45" fill="#B38BFF"/>
<rect x="414.50" y="463.45" width="13.10" height="11.80" fill="#FF8969"/>
<rect x="427.00" y="463.45" width="13.20" height="11.80" fill="#FFE8E0"/>
<rect x="439.60" y="463.45" width="13.10" height="11.80" fill="#FFB299"/>
<rect x="452.10" y="463.45" width="12.80" height="11.80" fill="#FF9475"/>
<rect x="469.10" y="463.45" width="13.10" height="11.80" fill="#0000FF"/>
<rect x="481.60" y="463.45" width="13.20" height="11.80" fill="#0000FF"/>
<rect x="494.20" y="463.45" width="13.10" height="11.80" fill="#A074FF"/>
<rect x="506.70" y="463.45" width="12.50" height="11.80" fill="#B38BFF"/>
<rect x="523.10" y="463.45" width="13.20" height="11.80" fill="#0000FF"/>
<rect x="535.70" y="463.45" width="13.10" height="11.80" fill="#0000FF"/>
<rect x="548.20" y="463.45" width="13.20" height="11.80" fill="#B38BFF"/>
<rect x="560.80" y="463.45" width="12.60" height="11.80" fill="#C4A2FF"/>
<rect x="414.50" y="474.65" width="13.10" height="11.15" fill="#B38BFF"/>
<rect x="427.00" y="474.65" width="13.20" height="11.15" fill="#7E52FF"/>
<rect x="439.60" y="474.65" width="13.10" height="11.15" fill="#FFC6B2"/>
<rect x="452.10" y="474.65" width="12.80" height="11.15" fill="#FFBCA6"/>
<rect x="469.10" y="474.65" width="13.10" height="11.15" fill="#AA80FF"/>
<rect x="481.60" y="474.65" width="13.20" height="11.15" fill="#FF0000"/>
<rect x="494.20" y="474.65" width="13.10" height="11.15" fill="#F2E7FF"/>
<rect x="506.70" y="474.65" width="12.50" height="11.15" fill="#0000FF"/>
<rect x="523.10" y="474.65" width="13.20" height="11.15" fill="#7145FF"/>
<rect x="535.70" y="474.65" width="13.10" height="11.15" fill="#FFBCA6"/>
<rect x="548.20" y="474.65" width="13.20" height="11.15" fill="#FFE2D8"/>
<rect x="560.80" y="474.65" width="12.60" height="11.15" fill="#B38BFF"/>
<rect x="414.50" y="485.20" width="13.10" height="11.85" fill="#D4B9FF"/>
<rect x="427.00" y="485.20" width="13.20" height="11.85" fill="#FF7352"/>
<rect x="439.60" y="485.20" width="13.10" height="11.85" fill="#BC97FF"/>
<rect x="452.10" y="485.20" width="12.80" height="11.85" fill="#FF0000"/>
<rect x="469.10" y="485.20" width="13.10" height="11.85" fill="#0000FF"/>
<rect x="481.60" y="485.20" width="13.20" height="11.85" fill="#0000FF"/>
<rect x="494.20" y="485.20" width="13.10" height="11.85" fill="#0000FF"/>
<rect x="506.70" y="485.20" width="12.50" height="11.85" fill="#0000FF"/>
<rect x="523.10" y="485.20" width="13.20" height="11.85" fill="#FF8969"/>
<rect x="535.70" y="485.20" width="13.10" height="11.85" fill="#0000FF"/>
<rect x="548.20" y="485.20" width="13.20" height="11.85" fill="#0000FF"/>
<rect x="560.80" y="485.20" width="12.60" height="11.85" fill="#0000FF"/>
<rect x="414.50" y="496.45" width="13.10" height="11.65" fill="#F4ECFF"/>
<rect x="427.00" y="496.45" width="13.20" height="11.65" fill="#FFECE5"/>
<rect x="439.60" y="496.45" width="13.10" height="11.65" fill="#FFECE5"/>
<rect x="452.10" y="496.45" width="12.80" height="11.65" fill="#E3D0FF"/>
<rect x="469.10" y="496.45" width="13.10" height="11.65" fill="#0000FF"/>
<rect x="481.60" y="496.45" width="13.20" height="11.65" fill="#0000FF"/>
<rect x="494.20" y="496.45" width="13.10" height="11.65" fill="#0000FF"/>
<rect x="506.70" y="496.45" width="12.50" height="11.65" fill="#AA80FF"/>
<rect x="523.10" y="496.45" width="13.20" height="11.65" fill="#BC97FF"/>
<rect x="535.70" y="496.45" width="13.10" height="11.65" fill="#0000FF"/>
<rect x="548.20" y="496.45" width="13.20" height="11.65" fill="#0000FF"/>
<rect x="560.80" y="496.45" width="12.60" height="11.65" fill="#7E52FF"/>
<rect x="414.50" y="507.50" width="13.10" height="11.60" fill="#B38BFF"/>
<rect x="427.00" y="507.50" width="13.20" height="11.60" fill="#DCC4FF"/>
<rect x="439.60" y="507.50" width="13.10" height="11.60" fill="#FFD9CB"/>
<rect x="452.10" y="507.50" width="12.80" height="11.60" fill="#D4B9FF"/>
<rect x="469.10" y="507.50" width="13.10" height="11.60" fill="#E3D0FF"/>
<rect x="481.60" y="507.50" width="13.20" height="11.60" fill="#D4B9FF"/>
<rect x="494.20" y="507.50" width="13.10" height="11.60" fill="#D4B9FF"/>
<rect x="506.70" y="507.50" width="12.50" height="11.60" fill="#FFCFBF"/>
<rect x="523.10" y="507.50" width="13.20" height="11.60" fill="#E3D0FF"/>
<rect x="535.70" y="507.50" width="13.10" height="11.60" fill="#8A5DFF"/>
<rect x="548.20" y="507.50" width="13.20" height="11.60" fill="#C4A2FF"/>
<rect x="560.80" y="507.50" width="12.60" height="11.60" fill="#EFE3FF"/>
<rect x="414.50" y="518.50" width="13.10" height="11.25" fill="#FF9475"/>
<rect x="427.00" y="518.50" width="13.20" height="11.25" fill="#FFE2D8"/>
<rect x="439.60" y="518.50" width="13.10" height="11.25" fill="#FFD9CB"/>
<rect x="452.10" y="518.50" width="12.80" height="11.25" fill="#FF9E81"/>
<rect x="469.10" y="518.50" width="13.10" height="11.25" fill="#0000FF"/>
<rect x="481.60" y="518.50" width="13.20" height="11.25" fill="#CCADFF"/>
<rect x="494.20" y="518.50" width="13.10" height="11.25" fill="#CCADFF"/>
<rect x="506.70" y="518.50" width="12.50" height="11.25" fill="#502BFF"/>
<rect x="523.10" y="518.50" width="13.20" height="11.25" fill="#F6EEFF"/>
<rect x="535.70" y="518.50" width="13.10" height="11.25" fill="#F6EEFF"/>
<rect x="548.20" y="518.50" width="13.20" height="11.25" fill="#AA80FF"/>
<rect x="560.80" y="518.50" width="12.60" height="11.25" fill="#CCADFF"/>
<rect x="414.50" y="529.15" width="13.10" height="12.05" fill="#4222FF"/>
<rect x="427.00" y="529.15" width="13.20" height="12.05" fill="#8A5DFF"/>
<rect x="439.60" y="529.15" width="13.10" height="12.05" fill="#FFD9CB"/>
<rect x="452.10" y="529.15" width="12.80" height="12.05" fill="#AA80FF"/>
<rect x="469.10" y="529.15" width="13.10" height="12.05" fill="#FFB299"/>
<rect x="481.60" y="529.15" width="13.20" height="12.05" fill="#FF9E81"/>
<rect x="494.20" y="529.15" width="13.10" height="12.05" fill="#FFA88D"/>
<rect x="506.70" y="529.15" width="12.50" height="12.05" fill="#F8F3FF"/>
<rect x="523.10" y="529.15" width="13.20" height="12.05" fill="#FCFAFF"/>
<rect x="535.70" y="529.15" width="13.10" height="12.05" fill="#FCFAFF"/>
<rect x="548.20" y="529.15" width="13.20" height="12.05" fill="#FFBCA6"/>
<rect x="560.80" y="529.15" width="12.60" height="12.05" fill="#FFF2ED"/>
<rect x="414.50" y="540.60" width="13.10" height="11.00" fill="#0000FF"/>
<rect x="427.00" y="540.60" width="13.20" height="11.00" fill="#7145FF"/>
<rect x="439.60" y="540.60" width="13.10" height="11.00" fill="#0000FF"/>
<rect x="452.10" y="540.60" width="12.80" height="11.00" fill="#E3D0FF"/>
<rect x="469.10" y="540.60" width="13.10" height="11.00" fill="#FF7E5E"/>
<rect x="481.60" y="540.60" width="13.20" height="11.00" fill="#FFE8E0"/>
<rect x="494.20" y="540.60" width="13.10" height="11.00" fill="#FFCFBF"/>
<rect x="506.70" y="540.60" width="12.50" height="11.00" fill="#FF9475"/>
<rect x="523.10" y="540.60" width="13.20" height="11.00" fill="#FF0000"/>
<rect x="535.70" y="540.60" width="13.10" height="11.00" fill="#FF3E22"/>
<rect x="548.20" y="540.60" width="13.20" height="11.00" fill="#FF0000"/>
<rect x="560.80" y="540.60" width="12.60" height="11.00" fill="#EBDCFF"/>
<text x="575.30" y="24.53" font-size="10.7" text-anchor="start" fill="#000">Akt1s1_S_213</text>
<text x="409.90" y="24.20" font-size="10.4" font-weight="bold" text-anchor="end" fill="#000">RMI/RMS</text>
<text x="575.30" y="35.48" font-size="10.7" text-anchor="start" fill="#000">Prkaa2_S_377</text>
<text x="409.90" y="36.30" font-size="10.4" font-weight="bold" text-anchor="end" fill="#000">RMS</text>
<text x="575.30" y="46.53" font-size="10.7" text-anchor="start" fill="#000">Clip1_T_350</text>
<text x="575.30" y="57.53" font-size="10.7" text-anchor="start" fill="#000">Clip1_T_350_2</text>
<text x="575.30" y="68.50" font-size="10.7" text-anchor="start" fill="#000">Clip1_S_146</text>
<text x="575.30" y="79.45" font-size="10.7" text-anchor="start" fill="#000">Clip1_S_146_2</text>
<text x="575.30" y="90.50" font-size="10.7" text-anchor="start" fill="#000">Clip1_S_313</text>
<text x="575.30" y="101.60" font-size="10.7" text-anchor="start" fill="#000">Clip1_S_203</text>
<text x="575.30" y="112.55" font-size="10.7" text-anchor="start" fill="#000">Clip1_S_203_2</text>
<text x="575.30" y="123.32" font-size="10.7" text-anchor="start" fill="#000">Clip1_S_203_3</text>
<text x="575.30" y="133.78" font-size="10.7" text-anchor="start" fill="#000">Eif2s2_S_2</text>
<text x="575.30" y="143.90" font-size="10.7" text-anchor="start" fill="#000">Eif2s2_S_2_2</text>
<text x="575.30" y="154.45" font-size="10.7" text-anchor="start" fill="#000">Eif4ebp1_S_64, T_69</text>
<text x="409.90" y="153.85" font-size="10.4" font-weight="bold" text-anchor="end" fill="#000">RMS</text>
<text x="575.30" y="165.50" font-size="10.7" text-anchor="start" fill="#000">Eif4ebp1_T_69</text>
<text x="409.90" y="165.10" font-size="10.4" font-weight="bold" text-anchor="end" fill="#000">RMS</text>
<text x="575.30" y="176.55" font-size="10.7" text-anchor="start" fill="#000">Eif4ebp1_T_69_3</text>
<text x="409.90" y="176.65" font-size="10.4" font-weight="bold" text-anchor="end" fill="#000">RMS</text>
<text x="575.30" y="187.62" font-size="10.7" text-anchor="start" fill="#000">Eif4ebp1_T_69_5</text>
<text x="409.90" y="188.10" font-size="10.4" font-weight="bold" text-anchor="end" fill="#000">RMS</text>
<text x="575.30" y="198.62" font-size="10.7" text-anchor="start" fill="#000">Eif4ebp1_Y_33, T_45</text>
<text x="409.90" y="200.60" font-size="10.4" font-weight="bold" text-anchor="end" fill="#000">RMI (T_45)</text>
<text x="575.30" y="209.60" font-size="10.7" text-anchor="start" fill="#000">Eif4ebp2_S_65</text>
<text x="409.90" y="211.30" font-size="10.4" font-weight="bold" text-anchor="end" fill="#000">RMS</text>
<text x="575.30" y="220.55" font-size="10.7" text-anchor="start" fill="#000">Eif4ebp2_Y_34, T_46</text>
<text x="409.90" y="222.00" font-size="10.4" font-weight="bold" text-anchor="end" fill="#000">RMI (T_46)</text>
<text x="575.30" y="231.55" font-size="10.7" text-anchor="start" fill="#000">Mapt_S_506</text>
<text x="575.30" y="242.53" font-size="10.7" text-anchor="start" fill="#000">Mapt_S_506_2</text>
<text x="575.30" y="253.92" font-size="10.7" text-anchor="start" fill="#000">Mapt_T_504, S_506</text>
<text x="575.30" y="265.98" font-size="10.7" text-anchor="start" fill="#000">Mapt_T_523</text>
<text x="575.30" y="278.00" font-size="10.7" text-anchor="start" fill="#000">Mapt_T_523, S_527</text>
<text x="575.30" y="289.98" font-size="10.7" text-anchor="start" fill="#000">Mapt_T_523, S_527_2</text>
<text x="575.30" y="301.52" font-size="10.7" text-anchor="start" fill="#000">Usp20_S_132</text>
<text x="409.90" y="304.00" font-size="10.4" font-weight="bold" text-anchor="end" fill="#000">RMS</text>
<text x="575.30" y="312.58" font-size="10.7" text-anchor="start" fill="#000">Larp1_S_198, S_201</text>
<text x="409.90" y="313.80" font-size="10.4" font-weight="bold" text-anchor="end" fill="#000">RMI</text>
<text x="575.30" y="323.60" font-size="10.7" text-anchor="start" fill="#000">Larp1_S_302</text>
<text x="409.90" y="325.10" font-size="10.4" font-weight="bold" text-anchor="end" fill="#000">RMI</text>
<text x="575.30" y="334.53" font-size="10.7" text-anchor="start" fill="#000">Larp1_S_494, S_498</text>
<text x="409.90" y="336.00" font-size="10.4" font-weight="bold" text-anchor="end" fill="#000">RMI</text>
<text x="575.30" y="345.48" font-size="10.7" text-anchor="start" fill="#000">Larp1_T_503</text>
<text x="409.90" y="347.70" font-size="10.4" font-weight="bold" text-anchor="end" fill="#000">RMI</text>
<text x="575.30" y="356.50" font-size="10.7" text-anchor="start" fill="#000">Larp1_T_503_2</text>
<text x="409.90" y="359.10" font-size="10.4" font-weight="bold" text-anchor="end" fill="#000">RMI</text>
<text x="575.30" y="367.50" font-size="10.7" text-anchor="start" fill="#000">Larp1_S_743</text>
<text x="409.90" y="369.70" font-size="10.4" font-weight="bold" text-anchor="end" fill="#000">RMS</text>
<text x="575.30" y="378.50" font-size="10.7" text-anchor="start" fill="#000">Tbc1d4_S_673</text>
<text x="409.90" y="381.40" font-size="10.4" font-weight="bold" text-anchor="end" fill="#000">RMS</text>
<text x="575.30" y="389.55" font-size="10.7" text-anchor="start" fill="#000">Tfeb_S_121</text>
<text x="575.30" y="400.60" font-size="10.7" text-anchor="start" fill="#000">Tfeb_S_121_2</text>
<text x="575.30" y="411.60" font-size="10.7" text-anchor="start" fill="#000">Wipi2_S_395</text>
<text x="575.30" y="422.55" font-size="10.7" text-anchor="start" fill="#000">Rptor_S_863</text>
<text x="575.30" y="439.39" font-size="10.7" text-anchor="start" fill="#000">Eif4b_S_422</text>
<text x="575.30" y="450.28" font-size="10.7" text-anchor="start" fill="#000">Cad_S_1859</text>
<text x="575.30" y="461.12" font-size="10.7" text-anchor="start" fill="#000">Deptor_S_287</text>
<text x="575.30" y="472.15" font-size="10.7" text-anchor="start" fill="#000">Rps6_S_236</text>
<text x="575.30" y="483.02" font-size="10.7" text-anchor="start" fill="#000">Rps6_S_236_2</text>
<text x="575.30" y="493.93" font-size="10.7" text-anchor="start" fill="#000">Rps6_S_236, S_240</text>
<text x="575.30" y="505.08" font-size="10.7" text-anchor="start" fill="#000">Rps6_S_235, S_242</text>
<text x="575.30" y="516.10" font-size="10.7" text-anchor="start" fill="#000">Gsk3b_S_9</text>
<text x="575.30" y="526.93" font-size="10.7" text-anchor="start" fill="#000">Eef2k_S_365</text>
<text x="575.30" y="537.98" font-size="10.7" text-anchor="start" fill="#000">Prkaa2_S_491</text>
<text x="575.30" y="549.20" font-size="10.7" text-anchor="start" fill="#000">Irs1_S_1097</text>
<text x="436.90" y="7.90" font-size="11" font-weight="bold" text-anchor="middle" fill="#000">AGE</text>
<text x="493.10" y="7.90" font-size="11" font-weight="bold" text-anchor="middle" fill="#000">CR</text>
<text x="548.60" y="7.90" font-size="11" font-weight="bold" text-anchor="middle" fill="#000">RM</text>
<text transform="translate(423.40,556.00) rotate(-90)" font-size="10.6" font-weight="bold" text-anchor="end">SOL</text>
<text transform="translate(436.40,556.00) rotate(-90)" font-size="10.6" font-weight="bold" text-anchor="end">TA</text>
<text transform="translate(449.20,556.00) rotate(-90)" font-size="10.6" font-weight="bold" text-anchor="end">TRI</text>
<text transform="translate(463.05,556.00) rotate(-90)" font-size="10.6" font-weight="bold" text-anchor="end">GAS</text>
<text transform="translate(478.20,556.00) rotate(-90)" font-size="10.6" font-weight="bold" text-anchor="end">SOL</text>
<text transform="translate(492.10,556.00) rotate(-90)" font-size="10.6" font-weight="bold" text-anchor="end">TA</text>
<text transform="translate(504.70,556.00) rotate(-90)" font-size="10.6" font-weight="bold" text-anchor="end">TRI</text>
<text transform="translate(517.20,556.00) rotate(-90)" font-size="10.6" font-weight="bold" text-anchor="end">GAS</text>
<text transform="translate(532.40,556.00) rotate(-90)" font-size="10.6" font-weight="bold" text-anchor="end">SOL</text>
<text transform="translate(545.50,556.00) rotate(-90)" font-size="10.6" font-weight="bold" text-anchor="end">TA</text>
<text transform="translate(559.40,556.00) rotate(-90)" font-size="10.6" font-weight="bold" text-anchor="end">TRI</text>
<text transform="translate(572.40,556.00) rotate(-90)" font-size="10.6" font-weight="bold" text-anchor="end">GAS</text>
<text transform="translate(349.60,187.60) rotate(-90)" font-size="12.2" font-weight="bold" text-anchor="middle">mTORC1</text>
<text transform="translate(394.80,493.00) rotate(-90)" font-size="12.2" font-weight="bold" text-anchor="middle">Rps6kb</text>
<rect x="38.30" y="225.00" width="14.10" height="12.90" fill="#FF0000"/>
<rect x="51.80" y="225.00" width="14.10" height="12.90" fill="#FF0000"/>
<rect x="65.30" y="225.00" width="14.00" height="12.90" fill="#A074FF"/>
<rect x="78.70" y="225.00" width="13.30" height="12.90" fill="#FF2913"/>
<rect x="96.20" y="225.00" width="14.10" height="12.90" fill="#C4A2FF"/>
<rect x="109.70" y="225.00" width="14.00" height="12.90" fill="#A074FF"/>
<rect x="123.10" y="225.00" width="14.00" height="12.90" fill="#FF7E5E"/>
<rect x="136.50" y="225.00" width="13.40" height="12.90" fill="#0000FF"/>
<rect x="153.90" y="225.00" width="14.00" height="12.90" fill="#0000FF"/>
<rect x="167.30" y="225.00" width="14.10" height="12.90" fill="#0000FF"/>
<rect x="180.80" y="225.00" width="14.00" height="12.90" fill="#0000FF"/>
<rect x="194.20" y="225.00" width="13.60" height="12.90" fill="#0000FF"/>
<rect x="38.30" y="237.30" width="14.10" height="13.30" fill="#0000FF"/>
<rect x="51.80" y="237.30" width="14.10" height="13.30" fill="#FFFFFF"/>
<rect x="65.30" y="237.30" width="14.00" height="13.30" fill="#FFECE5"/>
<rect x="78.70" y="237.30" width="13.30" height="13.30" fill="#DCC4FF"/>
<rect x="96.20" y="237.30" width="14.10" height="13.30" fill="#FFC6B2"/>
<rect x="109.70" y="237.30" width="14.00" height="13.30" fill="#FF9E81"/>
<rect x="123.10" y="237.30" width="14.00" height="13.30" fill="#FFE8E0"/>
<rect x="136.50" y="237.30" width="13.40" height="13.30" fill="#FFF2ED"/>
<rect x="153.90" y="237.30" width="14.00" height="13.30" fill="#F8F3FF"/>
<rect x="167.30" y="237.30" width="14.10" height="13.30" fill="#FF7E5E"/>
<rect x="180.80" y="237.30" width="14.00" height="13.30" fill="#FFCFBF"/>
<rect x="194.20" y="237.30" width="13.60" height="13.30" fill="#FF9E81"/>
<rect x="38.30" y="250.00" width="14.10" height="13.10" fill="#FF0000"/>
<rect x="51.80" y="250.00" width="14.10" height="13.10" fill="#FF0000"/>
<rect x="65.30" y="250.00" width="14.00" height="13.10" fill="#0000FF"/>
<rect x="78.70" y="250.00" width="13.30" height="13.10" fill="#FFCFBF"/>
<rect x="96.20" y="250.00" width="14.10" height="13.10" fill="#BC97FF"/>
<rect x="109.70" y="250.00" width="14.00" height="13.10" fill="#0000FF"/>
<rect x="123.10" y="250.00" width="14.00" height="13.10" fill="#B38BFF"/>
<rect x="136.50" y="250.00" width="13.40" height="13.10" fill="#0000FF"/>
<rect x="153.90" y="250.00" width="14.00" height="13.10" fill="#FF5B3A"/>
<rect x="167.30" y="250.00" width="14.10" height="13.10" fill="#0000FF"/>
<rect x="180.80" y="250.00" width="14.00" height="13.10" fill="#0000FF"/>
<rect x="194.20" y="250.00" width="13.60" height="13.10" fill="#FFD9CB"/>
<rect x="38.30" y="262.50" width="14.10" height="13.00" fill="#B38BFF"/>
<rect x="51.80" y="262.50" width="14.10" height="13.00" fill="#FF0000"/>
<rect x="65.30" y="262.50" width="14.00" height="13.00" fill="#FF9475"/>
<rect x="78.70" y="262.50" width="13.30" height="13.00" fill="#FFFFFF"/>
<rect x="96.20" y="262.50" width="14.10" height="13.00" fill="#BC97FF"/>
<rect x="109.70" y="262.50" width="14.00" height="13.00" fill="#0000FF"/>
<rect x="123.10" y="262.50" width="14.00" height="13.00" fill="#FF0000"/>
<rect x="136.50" y="262.50" width="13.40" height="13.00" fill="#FFFFFF"/>
<rect x="153.90" y="262.50" width="14.00" height="13.00" fill="#7E52FF"/>
<rect x="167.30" y="262.50" width="14.10" height="13.00" fill="#0000FF"/>
<rect x="180.80" y="262.50" width="14.00" height="13.00" fill="#FF0000"/>
<rect x="194.20" y="262.50" width="13.60" height="13.00" fill="#FFFFFF"/>
<rect x="38.30" y="274.90" width="14.10" height="12.85" fill="#0000FF"/>
<rect x="51.80" y="274.90" width="14.10" height="12.85" fill="#0000FF"/>
<rect x="65.30" y="274.90" width="14.00" height="12.85" fill="#EBDCFF"/>
<rect x="78.70" y="274.90" width="13.30" height="12.85" fill="#FCFAFF"/>
<rect x="96.20" y="274.90" width="14.10" height="12.85" fill="#FFC6B2"/>
<rect x="109.70" y="274.90" width="14.00" height="12.85" fill="#F8F3FF"/>
<rect x="123.10" y="274.90" width="14.00" height="12.85" fill="#BC97FF"/>
<rect x="136.50" y="274.90" width="13.40" height="12.85" fill="#FF8969"/>
<rect x="153.90" y="274.90" width="14.00" height="12.85" fill="#FF0000"/>
<rect x="167.30" y="274.90" width="14.10" height="12.85" fill="#FF8969"/>
<rect x="180.80" y="274.90" width="14.00" height="12.85" fill="#FF3E22"/>
<rect x="194.20" y="274.90" width="13.60" height="12.85" fill="#0000FF"/>
<rect x="38.30" y="287.15" width="14.10" height="13.35" fill="#8A5DFF"/>
<rect x="51.80" y="287.15" width="14.10" height="13.35" fill="#FF0000"/>
<rect x="65.30" y="287.15" width="14.00" height="13.35" fill="#FFE2D8"/>
<rect x="78.70" y="287.15" width="13.30" height="13.35" fill="#FF0000"/>
<rect x="96.20" y="287.15" width="14.10" height="13.35" fill="#FFA88D"/>
<rect x="109.70" y="287.15" width="14.00" height="13.35" fill="#8A5DFF"/>
<rect x="123.10" y="287.15" width="14.00" height="13.35" fill="#FF9E81"/>
<rect x="136.50" y="287.15" width="13.40" height="13.35" fill="#D4B9FF"/>
<rect x="153.90" y="287.15" width="14.00" height="13.35" fill="#0000FF"/>
<rect x="167.30" y="287.15" width="14.10" height="13.35" fill="#7145FF"/>
<rect x="180.80" y="287.15" width="14.00" height="13.35" fill="#FFFFFF"/>
<rect x="194.20" y="287.15" width="13.60" height="13.35" fill="#FFD9CB"/>
<rect x="38.30" y="299.90" width="14.10" height="12.85" fill="#BC97FF"/>
<rect x="51.80" y="299.90" width="14.10" height="12.85" fill="#A074FF"/>
<rect x="65.30" y="299.90" width="14.00" height="12.85" fill="#A074FF"/>
<rect x="78.70" y="299.90" width="13.30" height="12.85" fill="#0000FF"/>
<rect x="96.20" y="299.90" width="14.10" height="12.85" fill="#FCFAFF"/>
<rect x="109.70" y="299.90" width="14.00" height="12.85" fill="#FFCFBF"/>
<rect x="123.10" y="299.90" width="14.00" height="12.85" fill="#FFECE5"/>
<rect x="136.50" y="299.90" width="13.40" height="12.85" fill="#FFA88D"/>
<rect x="153.90" y="299.90" width="14.00" height="12.85" fill="#FFCFBF"/>
<rect x="167.30" y="299.90" width="14.10" height="12.85" fill="#FFC6B2"/>
<rect x="180.80" y="299.90" width="14.00" height="12.85" fill="#FFE2D8"/>
<rect x="194.20" y="299.90" width="13.60" height="12.85" fill="#FF8969"/>
<rect x="38.30" y="312.15" width="14.10" height="13.30" fill="#D4B9FF"/>
<rect x="51.80" y="312.15" width="14.10" height="13.30" fill="#D4B9FF"/>
<rect x="65.30" y="312.15" width="14.00" height="13.30" fill="#9569FF"/>
<rect x="78.70" y="312.15" width="13.30" height="13.30" fill="#D4B9FF"/>
<rect x="96.20" y="312.15" width="14.10" height="13.30" fill="#FFC6B2"/>
<rect x="109.70" y="312.15" width="14.00" height="13.30" fill="#CCADFF"/>
<rect x="123.10" y="312.15" width="14.00" height="13.30" fill="#FFB299"/>
<rect x="136.50" y="312.15" width="13.40" height="13.30" fill="#FCFAFF"/>
<rect x="153.90" y="312.15" width="14.00" height="13.30" fill="#FFC6B2"/>
<rect x="167.30" y="312.15" width="14.10" height="13.30" fill="#F2E7FF"/>
<rect x="180.80" y="312.15" width="14.00" height="13.30" fill="#FF9475"/>
<rect x="194.20" y="312.15" width="13.60" height="13.30" fill="#FF9475"/>
<rect x="38.30" y="324.85" width="14.10" height="13.05" fill="#FFBCA6"/>
<rect x="51.80" y="324.85" width="14.10" height="13.05" fill="#0000FF"/>
<rect x="65.30" y="324.85" width="14.00" height="13.05" fill="#FFBCA6"/>
<rect x="78.70" y="324.85" width="13.30" height="13.05" fill="#FFBCA6"/>
<rect x="96.20" y="324.85" width="14.10" height="13.05" fill="#D4B9FF"/>
<rect x="109.70" y="324.85" width="14.00" height="13.05" fill="#F8F3FF"/>
<rect x="123.10" y="324.85" width="14.00" height="13.05" fill="#FF8969"/>
<rect x="136.50" y="324.85" width="13.40" height="13.05" fill="#FFA88D"/>
<rect x="153.90" y="324.85" width="14.00" height="13.05" fill="#FF6846"/>
<rect x="167.30" y="324.85" width="14.10" height="13.05" fill="#FFB299"/>
<rect x="180.80" y="324.85" width="14.00" height="13.05" fill="#FF8969"/>
<rect x="194.20" y="324.85" width="13.60" height="13.05" fill="#FF5B3A"/>
<rect x="38.30" y="337.30" width="14.10" height="12.70" fill="#FF0000"/>
<rect x="51.80" y="337.30" width="14.10" height="12.70" fill="#0000FF"/>
<rect x="65.30" y="337.30" width="14.00" height="12.70" fill="#FFA88D"/>
<rect x="78.70" y="337.30" width="13.30" height="12.70" fill="#7E52FF"/>
<rect x="96.20" y="337.30" width="14.10" height="12.70" fill="#FF4D2E"/>
<rect x="109.70" y="337.30" width="14.00" height="12.70" fill="#FF0000"/>
<rect x="123.10" y="337.30" width="14.00" height="12.70" fill="#FFD9CB"/>
<rect x="136.50" y="337.30" width="13.40" height="12.70" fill="#0000FF"/>
<rect x="153.90" y="337.30" width="14.00" height="12.70" fill="#FF0000"/>
<rect x="167.30" y="337.30" width="14.10" height="12.70" fill="#FFFFFF"/>
<rect x="180.80" y="337.30" width="14.00" height="12.70" fill="#F6EEFF"/>
<rect x="194.20" y="337.30" width="13.60" height="12.70" fill="#0000FF"/>
<text x="209.60" y="233.85" font-size="10.7" text-anchor="start" fill="#000">Akt1s1_S_204</text>
<path d="M299.60,225.55 L303.00,228.85 L301.15,228.85 L301.15,233.75 L298.05,233.75 L298.05,228.85 L296.20,228.85 Z" fill="#000"/>
<text x="209.60" y="246.35" font-size="10.7" text-anchor="start" fill="#000">Rptor_S_722</text>
<path d="M299.60,247.05 L303.00,243.45 L301.15,243.45 L301.15,239.05 L298.05,239.05 L298.05,243.45 L296.20,243.45 Z" fill="#000"/>
<text x="209.60" y="258.95" font-size="10.7" text-anchor="start" fill="#000">Rptor_S_877</text>
<path d="M299.60,259.65 L303.00,256.05 L301.15,256.05 L301.15,251.65 L298.05,251.65 L298.05,256.05 L296.20,256.05 Z" fill="#000"/>
<text x="209.60" y="271.40" font-size="10.7" text-anchor="start" fill="#000">Mtor_S_1261</text>
<path d="M299.60,263.10 L303.00,266.40 L301.15,266.40 L301.15,271.30 L298.05,271.30 L298.05,266.40 L296.20,266.40 Z" fill="#000"/>
<text x="209.60" y="283.72" font-size="10.7" text-anchor="start" fill="#000">Tsc2_S_981</text>
<path d="M299.60,275.42 L303.00,278.72 L301.15,278.72 L301.15,283.62 L298.05,283.62 L298.05,278.72 L296.20,278.72 Z" fill="#000"/>
<text x="209.60" y="296.22" font-size="10.7" text-anchor="start" fill="#000">Tsc2_S_1365</text>
<path d="M299.60,287.92 L303.00,291.22 L301.15,291.22 L301.15,296.12 L298.05,296.12 L298.05,291.22 L296.20,291.22 Z" fill="#000"/>
<text x="209.60" y="308.72" font-size="10.7" text-anchor="start" fill="#000">Sqstm1_T_269</text>
<path d="M299.60,300.42 L303.00,303.72 L301.15,303.72 L301.15,308.62 L298.05,308.62 L298.05,303.72 L296.20,303.72 Z" fill="#000"/>
<text x="209.60" y="321.20" font-size="10.7" text-anchor="start" fill="#000">Sqstm1_T_272</text>
<path d="M299.60,312.90 L303.00,316.20 L301.15,316.20 L301.15,321.10 L298.05,321.10 L298.05,316.20 L296.20,316.20 Z" fill="#000"/>
<text x="209.60" y="333.78" font-size="10.7" text-anchor="start" fill="#000">Flcn_S_62</text>
<path d="M299.60,325.48 L303.00,328.78 L301.15,328.78 L301.15,333.68 L298.05,333.68 L298.05,328.78 L296.20,328.78 Z" fill="#000"/>
<text x="209.60" y="346.35" font-size="10.7" text-anchor="start" fill="#000">Flcn_S_62_2</text>
<path d="M299.60,338.05 L303.00,341.35 L301.15,341.35 L301.15,346.25 L298.05,346.25 L298.05,341.35 L296.20,341.35 Z" fill="#000"/>
<text x="66.40" y="220.50" font-size="11" font-weight="bold" text-anchor="middle" fill="#000">AGE</text>
<text x="123.90" y="220.50" font-size="11" font-weight="bold" text-anchor="middle" fill="#000">CR</text>
<text x="182.80" y="220.50" font-size="11" font-weight="bold" text-anchor="middle" fill="#000">RM</text>
<text transform="translate(50.30,353.30) rotate(-90)" font-size="10.6" font-weight="bold" text-anchor="end">SOL</text>
<text transform="translate(63.85,353.30) rotate(-90)" font-size="10.6" font-weight="bold" text-anchor="end">TA</text>
<text transform="translate(76.80,353.30) rotate(-90)" font-size="10.6" font-weight="bold" text-anchor="end">TRI</text>
<text transform="translate(89.95,353.30) rotate(-90)" font-size="10.6" font-weight="bold" text-anchor="end">GAS</text>
<text transform="translate(107.20,353.30) rotate(-90)" font-size="10.6" font-weight="bold" text-anchor="end">SOL</text>
<text transform="translate(120.30,353.30) rotate(-90)" font-size="10.6" font-weight="bold" text-anchor="end">TA</text>
<text transform="translate(133.90,353.30) rotate(-90)" font-size="10.6" font-weight="bold" text-anchor="end">TRI</text>
<text transform="translate(147.30,353.30) rotate(-90)" font-size="10.6" font-weight="bold" text-anchor="end">GAS</text>
<text transform="translate(162.80,353.30) rotate(-90)" font-size="10.6" font-weight="bold" text-anchor="end">SOL</text>
<text transform="translate(176.40,353.30) rotate(-90)" font-size="10.6" font-weight="bold" text-anchor="end">TA</text>
<text transform="translate(190.45,353.30) rotate(-90)" font-size="10.6" font-weight="bold" text-anchor="end">TRI</text>
<text transform="translate(204.85,353.30) rotate(-90)" font-size="10.6" font-weight="bold" text-anchor="end">GAS</text>
<text transform="translate(30.20,292.70) rotate(-90)" font-size="12.2" font-weight="bold" text-anchor="middle">Upstream mTORC1</text>
<rect x="39.10" y="410.00" width="14.50" height="13.90" fill="#FF0000"/>
<rect x="53.00" y="410.00" width="14.40" height="13.90" fill="#FF0000"/>
<rect x="66.80" y="410.00" width="14.40" height="13.90" fill="#FFB299"/>
<rect x="80.60" y="410.00" width="14.00" height="13.90" fill="#7E52FF"/>
<rect x="98.80" y="410.00" width="14.40" height="13.90" fill="#0000FF"/>
<rect x="112.60" y="410.00" width="14.40" height="13.90" fill="#0000FF"/>
<rect x="126.40" y="410.00" width="14.50" height="13.90" fill="#0000FF"/>
<rect x="140.30" y="410.00" width="13.70" height="13.90" fill="#FFCFBF"/>
<rect x="157.80" y="410.00" width="14.50" height="13.90" fill="#0000FF"/>
<rect x="171.70" y="410.00" width="14.50" height="13.90" fill="#0000FF"/>
<rect x="185.60" y="410.00" width="14.50" height="13.90" fill="#0000FF"/>
<rect x="199.50" y="410.00" width="14.10" height="13.90" fill="#FF0000"/>
<rect x="39.10" y="423.30" width="14.50" height="13.95" fill="#FF0000"/>
<rect x="53.00" y="423.30" width="14.40" height="13.95" fill="#FF0000"/>
<rect x="66.80" y="423.30" width="14.40" height="13.95" fill="#FF6846"/>
<rect x="80.60" y="423.30" width="14.00" height="13.95" fill="#FFE8E0"/>
<rect x="98.80" y="423.30" width="14.40" height="13.95" fill="#0000FF"/>
<rect x="112.60" y="423.30" width="14.40" height="13.95" fill="#0000FF"/>
<rect x="126.40" y="423.30" width="14.50" height="13.95" fill="#FFD9CB"/>
<rect x="140.30" y="423.30" width="13.70" height="13.95" fill="#EFE3FF"/>
<rect x="157.80" y="423.30" width="14.50" height="13.95" fill="#EFE3FF"/>
<rect x="171.70" y="423.30" width="14.50" height="13.95" fill="#0000FF"/>
<rect x="185.60" y="423.30" width="14.50" height="13.95" fill="#7E52FF"/>
<rect x="199.50" y="423.30" width="14.10" height="13.95" fill="#FF3E22"/>
<rect x="39.10" y="436.65" width="14.50" height="13.75" fill="#0000FF"/>
<rect x="53.00" y="436.65" width="14.40" height="13.75" fill="#FF0000"/>
<rect x="66.80" y="436.65" width="14.40" height="13.75" fill="#0000FF"/>
<rect x="80.60" y="436.65" width="14.00" height="13.75" fill="#FFC6B2"/>
<rect x="98.80" y="436.65" width="14.40" height="13.75" fill="#FF0000"/>
<rect x="112.60" y="436.65" width="14.40" height="13.75" fill="#0000FF"/>
<rect x="126.40" y="436.65" width="14.50" height="13.75" fill="#0000FF"/>
<rect x="140.30" y="436.65" width="13.70" height="13.75" fill="#0000FF"/>
<rect x="157.80" y="436.65" width="14.50" height="13.75" fill="#FF0000"/>
<rect x="171.70" y="436.65" width="14.50" height="13.75" fill="#0000FF"/>
<rect x="185.60" y="436.65" width="14.50" height="13.75" fill="#0000FF"/>
<rect x="199.50" y="436.65" width="14.10" height="13.75" fill="#0000FF"/>
<rect x="39.10" y="449.80" width="14.50" height="13.60" fill="#FFECE5"/>
<rect x="53.00" y="449.80" width="14.40" height="13.60" fill="#FF7352"/>
<rect x="66.80" y="449.80" width="14.40" height="13.60" fill="#FF9E81"/>
<rect x="80.60" y="449.80" width="14.00" height="13.60" fill="#FF4D2E"/>
<rect x="98.80" y="449.80" width="14.40" height="13.60" fill="#E3D0FF"/>
<rect x="112.60" y="449.80" width="14.40" height="13.60" fill="#CCADFF"/>
<rect x="126.40" y="449.80" width="14.50" height="13.60" fill="#FFF2ED"/>
<rect x="140.30" y="449.80" width="13.70" height="13.60" fill="#FF9475"/>
<rect x="157.80" y="449.80" width="14.50" height="13.60" fill="#DCC4FF"/>
<rect x="171.70" y="449.80" width="14.50" height="13.60" fill="#E3D0FF"/>
<rect x="185.60" y="449.80" width="14.50" height="13.60" fill="#AA80FF"/>
<rect x="199.50" y="449.80" width="14.10" height="13.60" fill="#FFC6B2"/>
<rect x="39.10" y="462.80" width="14.50" height="13.70" fill="#FFE8E0"/>
<rect x="53.00" y="462.80" width="14.40" height="13.70" fill="#FFF2ED"/>
<rect x="66.80" y="462.80" width="14.40" height="13.70" fill="#FF2913"/>
<rect x="80.60" y="462.80" width="14.00" height="13.70" fill="#FF7352"/>
<rect x="98.80" y="462.80" width="14.40" height="13.70" fill="#FFE8E0"/>
<rect x="112.60" y="462.80" width="14.40" height="13.70" fill="#D4B9FF"/>
<rect x="126.40" y="462.80" width="14.50" height="13.70" fill="#BC97FF"/>
<rect x="140.30" y="462.80" width="13.70" height="13.70" fill="#FFF2ED"/>
<rect x="157.80" y="462.80" width="14.50" height="13.70" fill="#0000FF"/>
<rect x="171.70" y="462.80" width="14.50" height="13.70" fill="#EBDCFF"/>
<rect x="185.60" y="462.80" width="14.50" height="13.70" fill="#FFF5F2"/>
<rect x="199.50" y="462.80" width="14.10" height="13.70" fill="#FFC6B2"/>
<rect x="39.10" y="475.90" width="14.50" height="13.65" fill="#FF0000"/>
<rect x="53.00" y="475.90" width="14.40" height="13.65" fill="#A074FF"/>
<rect x="66.80" y="475.90" width="14.40" height="13.65" fill="#FF0000"/>
<rect x="80.60" y="475.90" width="14.00" height="13.65" fill="#FF3E22"/>
<rect x="98.80" y="475.90" width="14.40" height="13.65" fill="#FFA88D"/>
<rect x="112.60" y="475.90" width="14.40" height="13.65" fill="#FF0000"/>
<rect x="126.40" y="475.90" width="14.50" height="13.65" fill="#FF7E5E"/>
<rect x="140.30" y="475.90" width="13.70" height="13.65" fill="#0000FF"/>
<rect x="157.80" y="475.90" width="14.50" height="13.65" fill="#E3D0FF"/>
<rect x="171.70" y="475.90" width="14.50" height="13.65" fill="#FF0000"/>
<rect x="185.60" y="475.90" width="14.50" height="13.65" fill="#FFF2ED"/>
<rect x="199.50" y="475.90" width="14.10" height="13.65" fill="#A074FF"/>
<rect x="39.10" y="488.95" width="14.50" height="14.15" fill="#FF6846"/>
<rect x="53.00" y="488.95" width="14.40" height="14.15" fill="#EFE3FF"/>
<rect x="66.80" y="488.95" width="14.40" height="14.15" fill="#FF0000"/>
<rect x="80.60" y="488.95" width="14.00" height="14.15" fill="#FFCFBF"/>
<rect x="98.80" y="488.95" width="14.40" height="14.15" fill="#FF0000"/>
<rect x="112.60" y="488.95" width="14.40" height="14.15" fill="#FF0000"/>
<rect x="126.40" y="488.95" width="14.50" height="14.15" fill="#FF9E81"/>
<rect x="140.30" y="488.95" width="13.70" height="14.15" fill="#FF0000"/>
<rect x="157.80" y="488.95" width="14.50" height="14.15" fill="#7145FF"/>
<rect x="171.70" y="488.95" width="14.50" height="14.15" fill="#FFBCA6"/>
<rect x="185.60" y="488.95" width="14.50" height="14.15" fill="#FFA88D"/>
<rect x="199.50" y="488.95" width="14.10" height="14.15" fill="#FF7E5E"/>
<rect x="39.10" y="502.50" width="14.50" height="13.30" fill="#FF0000"/>
<rect x="53.00" y="502.50" width="14.40" height="13.30" fill="#CCADFF"/>
<rect x="66.80" y="502.50" width="14.40" height="13.30" fill="#FF0000"/>
<rect x="80.60" y="502.50" width="14.00" height="13.30" fill="#FF7E5E"/>
<rect x="98.80" y="502.50" width="14.40" height="13.30" fill="#FF0000"/>
<rect x="112.60" y="502.50" width="14.40" height="13.30" fill="#FF0000"/>
<rect x="126.40" y="502.50" width="14.50" height="13.30" fill="#FFECE5"/>
<rect x="140.30" y="502.50" width="13.70" height="13.30" fill="#FF0000"/>
<rect x="157.80" y="502.50" width="14.50" height="13.30" fill="#0000FF"/>
<rect x="171.70" y="502.50" width="14.50" height="13.30" fill="#FF5B3A"/>
<rect x="185.60" y="502.50" width="14.50" height="13.30" fill="#F2E7FF"/>
<rect x="199.50" y="502.50" width="14.10" height="13.30" fill="#EBDCFF"/>
<text x="215.50" y="418.95" font-size="10.7" text-anchor="start" fill="#000">Prkca_T_638</text>
<text x="215.50" y="432.28" font-size="10.7" text-anchor="start" fill="#000">Akt2_T_451</text>
<text x="215.50" y="445.53" font-size="10.7" text-anchor="start" fill="#000">Oxsr1_S_339</text>
<text x="215.50" y="458.60" font-size="10.7" text-anchor="start" fill="#000">Flna_S_2152</text>
<text x="215.50" y="471.65" font-size="10.7" text-anchor="start" fill="#000">Flna_S_2152_2</text>
<text x="215.50" y="484.72" font-size="10.7" text-anchor="start" fill="#000">Acly_S_455</text>
<text x="215.50" y="498.03" font-size="10.7" text-anchor="start" fill="#000">Acly_S_455_2</text>
<text x="215.50" y="511.45" font-size="10.7" text-anchor="start" fill="#000">Acly_S_455_3</text>
<text x="67.30" y="407.50" font-size="11" font-weight="bold" text-anchor="middle" fill="#000">AGE</text>
<text x="127.20" y="407.50" font-size="11" font-weight="bold" text-anchor="middle" fill="#000">CR</text>
<text x="185.70" y="407.50" font-size="11" font-weight="bold" text-anchor="middle" fill="#000">RM</text>
<text transform="translate(48.10,518.20) rotate(-90)" font-size="10.6" font-weight="bold" text-anchor="end">SOL</text>
<text transform="translate(62.15,518.20) rotate(-90)" font-size="10.6" font-weight="bold" text-anchor="end">TA</text>
<text transform="translate(76.35,518.20) rotate(-90)" font-size="10.6" font-weight="bold" text-anchor="end">TRI</text>
<text transform="translate(91.05,518.20) rotate(-90)" font-size="10.6" font-weight="bold" text-anchor="end">GAS</text>
<text transform="translate(108.75,518.20) rotate(-90)" font-size="10.6" font-weight="bold" text-anchor="end">SOL</text>
<text transform="translate(123.25,518.20) rotate(-90)" font-size="10.6" font-weight="bold" text-anchor="end">TA</text>
<text transform="translate(137.25,518.20) rotate(-90)" font-size="10.6" font-weight="bold" text-anchor="end">TRI</text>
<text transform="translate(151.35,518.20) rotate(-90)" font-size="10.6" font-weight="bold" text-anchor="end">GAS</text>
<text transform="translate(167.30,518.20) rotate(-90)" font-size="10.6" font-weight="bold" text-anchor="end">SOL</text>
<text transform="translate(181.90,518.20) rotate(-90)" font-size="10.6" font-weight="bold" text-anchor="end">TA</text>
<text transform="translate(195.95,518.20) rotate(-90)" font-size="10.6" font-weight="bold" text-anchor="end">TRI</text>
<text transform="translate(210.80,518.20) rotate(-90)" font-size="10.6" font-weight="bold" text-anchor="end">GAS</text>
<text transform="translate(35.60,463.70) rotate(-90)" font-size="12.2" font-weight="bold" text-anchor="middle">mTORC2</text>
<defs><linearGradient id="lg" x1="0" x2="1" y1="0" y2="0"><stop offset="0.000" stop-color="#0000FF"/><stop offset="0.050" stop-color="#502BFF"/><stop offset="0.100" stop-color="#7145FF"/><stop offset="0.150" stop-color="#8A5DFF"/><stop offset="0.200" stop-color="#A074FF"/><stop offset="0.250" stop-color="#B38BFF"/><stop offset="0.300" stop-color="#C4A2FF"/><stop offset="0.350" stop-color="#D4B9FF"/><stop offset="0.400" stop-color="#E3D0FF"/><stop offset="0.450" stop-color="#F2E7FF"/><stop offset="0.500" stop-color="#FFFFFF"/><stop offset="0.550" stop-color="#FFECE5"/><stop offset="0.600" stop-color="#FFD9CB"/><stop offset="0.650" stop-color="#FFC6B2"/><stop offset="0.700" stop-color="#FFB299"/><stop offset="0.750" stop-color="#FF9E81"/><stop offset="0.800" stop-color="#FF8969"/><stop offset="0.850" stop-color="#FF7352"/><stop offset="0.900" stop-color="#FF5B3A"/><stop offset="0.950" stop-color="#FF3E22"/><stop offset="1.000" stop-color="#FF0000"/></linearGradient></defs>
<rect x="294.60" y="548.00" width="57.20" height="11.60" fill="url(#lg)"/>
<line x1="296.30" y1="548" x2="296.30" y2="550" stroke="#fff" stroke-width="0.6"/>
<line x1="309.70" y1="548" x2="309.70" y2="550" stroke="#fff" stroke-width="0.6"/>
<line x1="323.10" y1="548" x2="323.10" y2="550" stroke="#fff" stroke-width="0.6"/>
<line x1="336.50" y1="548" x2="336.50" y2="550" stroke="#fff" stroke-width="0.6"/>
<line x1="349.90" y1="548" x2="349.90" y2="550" stroke="#fff" stroke-width="0.6"/>
<text x="306.40" y="540.80" font-size="9.5" font-weight="bold" text-anchor="start" fill="#000">log</text>
<text x="320.40" y="544.30" font-size="5.5" font-weight="bold" text-anchor="start" fill="#000">2</text>
<text x="323.80" y="540.80" font-size="9.5" font-weight="bold" text-anchor="start" fill="#000">FC</text>
<text x="286.90" y="568.30" font-size="9.3" text-anchor="start" fill="#000">−1</text>
<text x="297.90" y="568.30" font-size="9.3" text-anchor="start" fill="#000">−0.5</text>
<text x="319.90" y="568.30" font-size="9.3" text-anchor="start" fill="#000">0</text>
<text x="331.10" y="568.30" font-size="9.3" text-anchor="start" fill="#000">0.5</text>
<text x="347.20" y="568.30" font-size="9.3" text-anchor="start" fill="#000">1</text>
<text x="4.00" y="18.60" font-size="19.5" font-weight="bold" text-anchor="start" fill="#000">A</text>
<text x="340.00" y="20.00" font-size="19.5" font-weight="bold" text-anchor="start" fill="#000">B</text>
<text x="-0.90" y="212.80" font-size="19.5" font-weight="bold" text-anchor="start" fill="#000">C</text>
<text x="4.00" y="407.40" font-size="19.5" font-weight="bold" text-anchor="start" fill="#000">D</text>
<defs><radialGradient id="pg" cx="0.5" cy="0.5" r="0.5"><stop offset="0" stop-color="#7a7a7a"/><stop offset="0.7" stop-color="#6a6a6a"/><stop offset="1" stop-color="#555"/></radialGradient></defs>
<rect x="76.5" y="30.5" width="77" height="57" rx="7" ry="7" fill="none" stroke="#6E9E6E" stroke-width="1.05" stroke-dasharray="3.1,3.1"/>
<text x="85.50" y="45.60" font-size="10.3" font-weight="bold" text-anchor="start" fill="#222" stroke="#222" stroke-width="0.25">mTORC1</text>
<rect x="116.20" y="66.10" width="32.60" height="17.60" rx="8.80" ry="8.80" fill="#C8DFC6" stroke="#93BB90" stroke-width="0.9"/>
<text x="133.60" y="78.60" font-size="10.3" font-weight="bold" text-anchor="middle" fill="#111" stroke="#111" stroke-width="0.3">Rptor</text>
<rect x="83.60" y="66.80" width="33.40" height="16.40" rx="8.20" ry="8.20" fill="#C9474D" stroke="#B03A40" stroke-width="0.9"/>
<text x="100.30" y="78.60" font-size="10.3" font-weight="bold" text-anchor="middle" fill="#fff" stroke="#fff" stroke-width="0.3">mTOR</text>
<rect x="83.80" y="49.60" width="33.80" height="16.10" rx="8.05" ry="8.05" fill="#F1AB3E" stroke="#DD9A30" stroke-width="0.9"/>
<text x="100.70" y="62.20" font-size="10.3" font-weight="bold" text-anchor="middle" fill="#111" stroke="#111" stroke-width="0.3">Lst8</text>
<rect x="9.10" y="46.10" width="39.70" height="16.80" rx="8.40" ry="8.40" fill="#E4EAF5" stroke="#A6B6D2" stroke-width="0.9"/>
<text x="29.20" y="58.80" font-size="10.3" font-weight="bold" text-anchor="middle" fill="#111" stroke="#111" stroke-width="0.3">Deptor</text>
<circle cx="50.50" cy="58.70" r="4.4" fill="url(#pg)" stroke="#555" stroke-width="0.5"/>
<text x="50.60" y="61.10" font-size="6.6" text-anchor="middle" fill="#eee">P</text>
<line x1="57.50" y1="54.50" x2="72.50" y2="54.50" stroke="#555" stroke-width="0.8"/>
<line x1="72.50" y1="52.00" x2="72.50" y2="57.00" stroke="#555" stroke-width="0.9"/>
<line x1="57.50" y1="58.50" x2="72.50" y2="58.50" stroke="#555" stroke-width="0.8"/>
<line x1="57.50" y1="56.00" x2="57.50" y2="61.00" stroke="#555" stroke-width="0.9"/>
<rect x="9.10" y="65.00" width="39.70" height="16.40" rx="8.20" ry="8.20" fill="#E4EAF5" stroke="#A6B6D2" stroke-width="0.9"/>
<text x="29.20" y="77.60" font-size="10.3" font-weight="bold" text-anchor="middle" fill="#111" stroke="#111" stroke-width="0.3">Akt1s1</text>
<circle cx="50.50" cy="77.00" r="4.4" fill="url(#pg)" stroke="#555" stroke-width="0.5"/>
<text x="50.60" y="79.40" font-size="6.6" text-anchor="middle" fill="#eee">P</text>
<line x1="57.50" y1="73.50" x2="72.50" y2="73.50" stroke="#555" stroke-width="0.8"/>
<line x1="72.50" y1="71.00" x2="72.50" y2="76.00" stroke="#555" stroke-width="0.9"/>
<line x1="57.50" y1="77.50" x2="72.50" y2="77.50" stroke="#555" stroke-width="0.8"/>
<line x1="57.50" y1="75.00" x2="57.50" y2="80.00" stroke="#555" stroke-width="0.9"/>
<line x1="115.50" y1="91.60" x2="115.50" y2="96.50" stroke="#555" stroke-width="0.9"/>
<line x1="83.50" y1="96.50" x2="149.50" y2="96.50" stroke="#555" stroke-width="0.9"/>
<line x1="83.50" y1="96.50" x2="83.50" y2="103.50" stroke="#333" stroke-width="0.9"/>
<path d="M81.40,103.00 L85.60,103.00 L83.50,107.00 Z" fill="#333"/>
<line x1="149.50" y1="96.50" x2="149.50" y2="106.20" stroke="#555" stroke-width="0.9"/>
<line x1="147.00" y1="106.70" x2="152.00" y2="106.70" stroke="#999" stroke-width="1.2"/>
<rect x="62.00" y="113.40" width="43.80" height="17.50" rx="8.75" ry="8.75" fill="#F6E3A0" stroke="#E8CB62" stroke-width="0.9"/>
<text x="83.90" y="125.80" font-size="10.3" font-weight="bold" text-anchor="middle" fill="#111" stroke="#111" stroke-width="0.3">Rps6kb</text>
<circle cx="83.50" cy="113.10" r="4.4" fill="url(#pg)" stroke="#555" stroke-width="0.5"/>
<text x="83.60" y="115.50" font-size="6.6" text-anchor="middle" fill="#eee">P</text>
<rect x="127.70" y="113.40" width="43.80" height="17.50" rx="8.75" ry="8.75" fill="#F6E3A0" stroke="#E8CB62" stroke-width="0.9"/>
<text x="149.60" y="125.80" font-size="10.3" font-weight="bold" text-anchor="middle" fill="#111" stroke="#111" stroke-width="0.3">Eif4ebp</text>
<circle cx="149.60" cy="113.00" r="4.4" fill="url(#pg)" stroke="#555" stroke-width="0.5"/>
<text x="149.70" y="115.40" font-size="6.6" text-anchor="middle" fill="#eee">P</text>
<line x1="83.50" y1="132.30" x2="83.50" y2="139.30" stroke="#333" stroke-width="0.9"/>
<path d="M81.40,138.80 L85.60,138.80 L83.50,142.80 Z" fill="#333"/>
<rect x="62.00" y="148.40" width="43.80" height="17.50" rx="8.75" ry="8.75" fill="#F6E3A0" stroke="#E8CB62" stroke-width="0.9"/>
<text x="83.90" y="160.80" font-size="10.3" font-weight="bold" text-anchor="middle" fill="#111" stroke="#111" stroke-width="0.3">Rps6</text>
<circle cx="83.50" cy="147.50" r="4.4" fill="url(#pg)" stroke="#555" stroke-width="0.5"/>
<text x="83.60" y="149.90" font-size="6.6" text-anchor="middle" fill="#eee">P</text>
<rect x="168.70" y="46.00" width="40.10" height="17.80" rx="8.90" ry="8.90" fill="#E4EAF5" stroke="#A6B6D2" stroke-width="0.9"/>
<text x="188.70" y="58.80" font-size="10.3" font-weight="bold" text-anchor="middle" fill="#111" stroke="#111" stroke-width="0.3">Deptor</text>
<circle cx="209.40" cy="59.20" r="4.4" fill="url(#pg)" stroke="#555" stroke-width="0.5"/>
<text x="209.50" y="61.60" font-size="6.6" text-anchor="middle" fill="#eee">P</text>
<line x1="216.50" y1="54.50" x2="231.50" y2="54.50" stroke="#555" stroke-width="0.8"/>
<line x1="231.50" y1="52.00" x2="231.50" y2="57.00" stroke="#555" stroke-width="0.9"/>
<line x1="216.50" y1="58.50" x2="231.50" y2="58.50" stroke="#555" stroke-width="0.8"/>
<line x1="216.50" y1="56.00" x2="216.50" y2="61.00" stroke="#555" stroke-width="0.9"/>
<rect x="234.5" y="30.5" width="78" height="57" rx="7" ry="7" fill="none" stroke="#D26464" stroke-width="1.05" stroke-dasharray="3.1,3.1"/>
<text x="241.70" y="45.60" font-size="10.9" font-weight="bold" text-anchor="start" fill="#222" stroke="#222" stroke-width="0.25">mTORC2</text>
<rect x="273.40" y="49.60" width="33.10" height="16.10" rx="8.05" ry="8.05" fill="#F0D7E6" stroke="#A8828F" stroke-width="0.9"/>
<text x="290.00" y="62.00" font-size="10.3" font-weight="bold" text-anchor="middle" fill="#111" stroke="#111" stroke-width="0.3">Sin1</text>
<rect x="273.40" y="66.80" width="33.10" height="16.40" rx="8.20" ry="8.20" fill="#F0D7E6" stroke="#A8828F" stroke-width="0.9"/>
<text x="290.00" y="78.60" font-size="10.3" font-weight="bold" text-anchor="middle" fill="#111" stroke="#111" stroke-width="0.3">Rictr</text>
<rect x="240.80" y="49.60" width="33.20" height="16.10" rx="8.05" ry="8.05" fill="#F1AB3E" stroke="#DD9A30" stroke-width="0.9"/>
<text x="257.40" y="62.20" font-size="10.3" font-weight="bold" text-anchor="middle" fill="#111" stroke="#111" stroke-width="0.3">Lst8</text>
<rect x="240.20" y="66.80" width="33.80" height="16.40" rx="8.20" ry="8.20" fill="#C9474D" stroke="#B03A40" stroke-width="0.9"/>
<text x="257.10" y="78.60" font-size="10.3" font-weight="bold" text-anchor="middle" fill="#fff" stroke="#fff" stroke-width="0.3">mTOR</text>
<line x1="273.50" y1="91.60" x2="273.50" y2="96.50" stroke="#555" stroke-width="0.9"/>
<line x1="226.50" y1="96.50" x2="319.50" y2="96.50" stroke="#555" stroke-width="0.9"/>
<line x1="226.50" y1="96.50" x2="226.50" y2="103.00" stroke="#333" stroke-width="0.9"/>
<path d="M224.40,102.50 L228.60,102.50 L226.50,106.50 Z" fill="#333"/>
<line x1="273.50" y1="96.50" x2="273.50" y2="103.00" stroke="#333" stroke-width="0.9"/>
<path d="M271.40,102.50 L275.60,102.50 L273.50,106.50 Z" fill="#333"/>
<line x1="319.50" y1="96.50" x2="319.50" y2="103.00" stroke="#333" stroke-width="0.9"/>
<path d="M317.40,102.50 L321.60,102.50 L319.50,106.50 Z" fill="#333"/>
<rect x="205.10" y="113.60" width="42.90" height="16.90" rx="8.45" ry="8.45" fill="#E9C325" stroke="#E9C325" stroke-width="0.9"/>
<text x="226.50" y="126.20" font-size="10.3" font-weight="bold" text-anchor="middle" fill="#111" stroke="#111" stroke-width="0.3">Akt</text>
<circle cx="226.20" cy="113.30" r="4.4" fill="url(#pg)" stroke="#555" stroke-width="0.5"/>
<text x="226.30" y="115.70" font-size="6.6" text-anchor="middle" fill="#eee">P</text>
<rect x="252.70" y="113.60" width="41.70" height="16.90" rx="8.45" ry="8.45" fill="#E9C325" stroke="#E9C325" stroke-width="0.9"/>
<text x="273.60" y="126.20" font-size="10.3" font-weight="bold" text-anchor="middle" fill="#111" stroke="#111" stroke-width="0.3">Pkc</text>
<circle cx="273.60" cy="113.30" r="4.4" fill="url(#pg)" stroke="#555" stroke-width="0.5"/>
<text x="273.70" y="115.70" font-size="6.6" text-anchor="middle" fill="#eee">P</text>
<rect x="298.40" y="113.70" width="42.20" height="17.00" rx="8.50" ry="8.50" fill="#E9C325" stroke="#E9C325" stroke-width="0.9"/>
<text x="319.50" y="126.30" font-size="10.3" font-weight="bold" text-anchor="middle" fill="#111" stroke="#111" stroke-width="0.3">Sgk</text>
<circle cx="319.60" cy="113.30" r="4.4" fill="url(#pg)" stroke="#555" stroke-width="0.5"/>
<text x="319.70" y="115.70" font-size="6.6" text-anchor="middle" fill="#eee">P</text>
</svg>
</body></html>
